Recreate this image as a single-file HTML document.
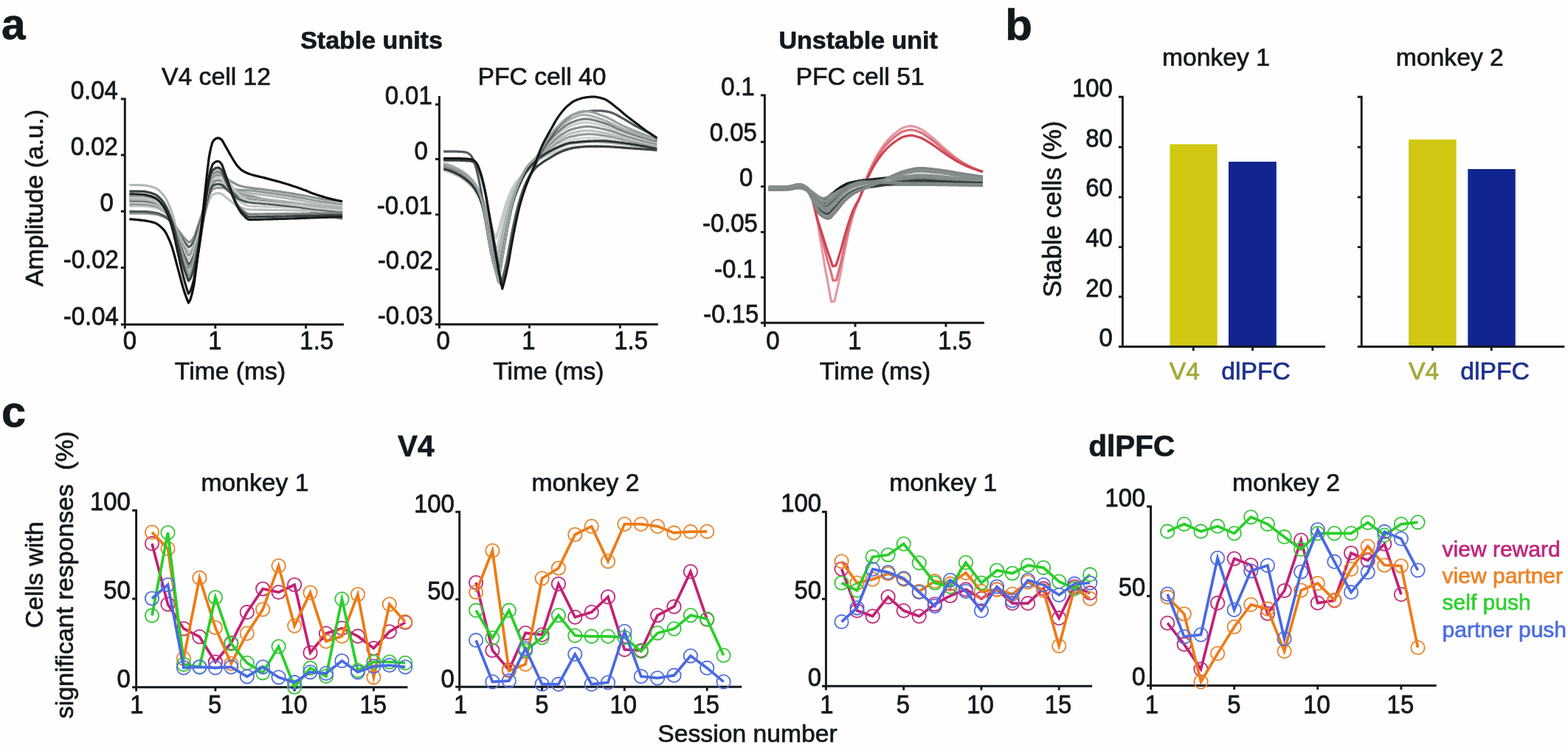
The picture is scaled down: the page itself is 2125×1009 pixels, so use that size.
<!DOCTYPE html>
<html lang="en">
<head>
<meta charset="utf-8">
<title>Figure: unit stability and session responses</title>
<style>
html,body{margin:0;padding:0;background:#fefefe;}
body{width:2125px;height:1009px;overflow:hidden;}
svg{display:block;font-family:"Liberation Sans",sans-serif;font-size:33.7px;fill:#12181c;}
text{stroke:#12181c;stroke-width:0.7px;stroke-linejoin:round;paint-order:stroke fill;}
</style>
</head>
<body>
<svg width="2125" height="1009" viewBox="0 0 2125 1009" role="img" aria-label="Figure with panels a, b and c">
<defs><filter id="soft" x="0" y="0" width="100%" height="100%" filterUnits="userSpaceOnUse" color-interpolation-filters="sRGB"><feGaussianBlur stdDeviation="0.6"/></filter></defs>
<g filter="url(#soft)">
<rect width="2125" height="1009" fill="#fefefe"/>
<text x="1.9" y="52.9" font-size="58.5" font-weight="bold">a</text>
<text x="1362.2" y="53.6" font-size="60" font-weight="bold">b</text>
<text x="2" y="577.5" font-size="59.5" font-weight="bold">c</text>
<text x="503.5" y="66.3" font-size="34" text-anchor="middle" font-weight="bold">Stable units</text>
<text x="1163.2" y="66.3" font-size="34" text-anchor="middle" font-weight="bold">Unstable unit</text>
<text x="293" y="115" text-anchor="middle">V4 cell 12</text>
<text x="734.5" y="115" text-anchor="middle">PFC cell 40</text>
<text x="1165.6" y="115" text-anchor="middle">PFC cell 51</text>
<text transform="translate(57.6 268.1) rotate(-90)" font-size="34" text-anchor="middle">Amplitude (a.u.)</text>
<text x="312" y="514" text-anchor="middle">Time (ms)</text>
<text x="743.4" y="514" text-anchor="middle">Time (ms)</text>
<text x="1186" y="514" text-anchor="middle">Time (ms)</text>
<g id="wave1">
<path d="M175.4 250.5L177.9 250.5L180.4 250.5L182.9 250.6L185.5 250.6L188 250.7L190.5 250.8L193 250.8L195.5 251L198 251.3L200.6 251.8L203.1 252.4L205.6 253L208.1 253.8L210.6 254.7L213.1 256.1L215.7 258.1L218.2 260.5L220.7 263.3L223.2 266.5L225.7 270.6L228.2 275.8L230.7 281.8L233.3 288.5L235.8 297L238.3 306.8L240.8 316.9L243.3 326.5L245.8 336.4L248.4 345.9L250.9 354.2L253.4 361.6L255.9 368.1L258.4 365.7L260.9 361L263.4 354.3L265.9 343.9L268.4 333.3L271 322.3L273.5 310.7L276 298L278.5 284.9L281 271.9L283.5 259.7L286 252.3L288.5 247.4L291 245.6L293.5 244.6L296 244.3L298.5 244.6L301.1 245.3L303.6 246.7L306.1 248.4L308.6 249.9L311.1 251.5L313.6 253.1L316.1 254.6L318.6 256.1L321.1 257.4L323.6 258.4L326.1 259.3L328.6 260L331.2 260.5L333.7 260.9L336.2 261.3L338.7 261.7L341.2 262.1L343.7 262.4L346.2 262.7L348.7 263L351.2 263.4L353.7 263.7L356.2 264L358.7 264.3L361.3 264.7L363.8 265L366.3 265.3L368.8 265.6L371.3 266L373.8 266.3L376.3 266.7L378.8 267L381.3 267.4L383.8 267.7L386.3 268.1L388.8 268.5L391.4 268.9L393.9 269.3L396.4 269.7L398.9 270.1L401.4 270.5L403.9 270.9L406.4 271.4L408.9 271.8L411.4 272.3L413.9 272.8L416.4 273.3L418.9 273.8L421.5 274.3L424 274.8L426.5 275.3L429 275.7L431.5 276.1L434 276.5L436.5 276.9L439 277.2L441.5 277.6L444 277.9L446.5 278.3L449 278.6L451.6 278.9L454.1 279.2L456.6 279.5L459.1 279.7L461.6 280L464.1 280.2" fill="none" stroke="#b3b9b9" stroke-width="3.2" stroke-linejoin="round"/>
<path d="M175.4 288.9L177.9 288.9L180.5 288.9L183 288.9L185.5 288.9L188 288.9L190.6 288.9L193.1 288.9L195.6 288.9L198.1 289L200.7 289.2L203.2 289.4L205.7 289.6L208.2 289.9L210.8 290.2L213.3 290.7L215.8 291.3L218.3 292.2L220.8 293.1L223.4 294.2L225.9 295.6L228.4 297.3L230.9 299.3L233.5 301.6L236 304.5L238.5 307.8L241.1 311.2L243.6 314.4L246.1 317.8L248.6 321L251.1 323.8L253.7 326.3L256.2 328.5L258.7 326.9L261.2 323.7L263.7 319.2L266.2 312L268.7 304.8L271.2 297.4L273.7 289.5L276.2 280.9L278.7 272L281.2 263.2L283.8 254.9L286.3 249.8L288.8 246.5L291.3 245.2L293.8 244.5L296.3 244.3L298.8 244.6L301.3 245.4L303.8 247.2L306.3 249.3L308.8 251.1L311.3 253.1L313.8 255L316.3 256.9L318.8 258.7L321.3 260.3L323.8 261.5L326.3 262.6L328.8 263.4L331.3 264L333.8 264.5L336.4 265L338.9 265.5L341.4 266L343.9 266.6L346.4 267.1L348.9 267.7L351.4 268.2L353.9 268.8L356.4 269.3L358.9 269.9L361.4 270.4L363.9 271L366.4 271.5L368.9 272.1L371.4 272.6L373.9 273.2L376.4 273.7L378.9 274.3L381.4 274.9L383.9 275.5L386.5 276.1L389 276.8L391.5 277.4L394 278.1L396.5 278.8L399 279.5L401.5 280.2L404 280.9L406.5 281.6L409 282.3L411.5 283.1L414 283.9L416.5 284.8L419 285.6L421.5 286.4L424 287.3L426.5 288.1L429 288.8L431.5 289.5L434 290.1L436.5 290.8L439.1 291.4L441.6 291.9L444.1 292.5L446.6 293.1L449.1 293.6L451.6 294.1L454.1 294.6L456.6 295.1L459.1 295.5L461.6 295.9L464.1 296.3" fill="none" stroke="#8a9090" stroke-width="3.2" stroke-linejoin="round"/>
<path d="M175.4 286.4L177.9 286.4L180.4 286.4L182.9 286.4L185.5 286.5L188 286.5L190.5 286.5L193 286.5L195.5 286.6L198 286.7L200.6 286.9L203.1 287.2L205.6 287.4L208.1 287.8L210.6 288.1L213.1 288.7L215.7 289.5L218.2 290.5L220.7 291.7L223.2 293L225.7 294.7L228.2 296.8L230.7 299.3L233.3 302L235.8 305.5L238.3 309.5L240.8 313.7L243.3 317.6L245.8 321.7L248.4 325.6L250.9 329L253.4 332L255.9 334.7L258.4 333L260.9 329.8L263.4 325.2L265.9 317.9L268.4 310.6L271 303.1L273.5 295.1L276 286.3L278.5 277.2L281 268.3L283.5 259.9L286 254.8L288.5 251.4L291 250.2L293.5 249.5L296 249.3L298.5 249.6L301.1 250.3L303.6 252L306.1 253.9L308.6 255.7L311.1 257.5L313.6 259.3L316.1 261.1L318.6 262.8L321.1 264.2L323.6 265.4L326.1 266.4L328.6 267.2L331.2 267.8L333.7 268.3L336.2 268.7L338.7 269.1L341.2 269.5L343.7 269.9L346.2 270.2L348.7 270.6L351.2 270.9L353.7 271.2L356.2 271.6L358.7 271.9L361.3 272.3L363.8 272.6L366.3 273L368.8 273.3L371.3 273.7L373.8 274.1L376.3 274.4L378.8 274.8L381.3 275.2L383.8 275.6L386.3 276L388.8 276.4L391.4 276.8L393.9 277.2L396.4 277.6L398.9 278.1L401.4 278.5L403.9 279L406.4 279.5L408.9 279.9L411.4 280.4L413.9 280.9L416.4 281.5L418.9 282L421.5 282.6L424 283.1L426.5 283.6L429 284.1L431.5 284.5L434 284.9L436.5 285.3L439 285.7L441.5 286.1L444 286.5L446.5 286.8L449 287.1L451.6 287.5L454.1 287.8L456.6 288.1L459.1 288.4L461.6 288.6L464.1 288.9" fill="none" stroke="#53595a" stroke-width="3.2" stroke-linejoin="round"/>
<path d="M175.4 279L177.9 279L180.4 279L182.9 279L185.4 279L187.9 279L190.5 279L193 279L195.5 279.1L198 279.2L200.5 279.5L203 279.8L205.5 280.2L208 280.6L210.5 281.1L213 281.8L215.6 282.9L218.1 284.2L220.6 285.8L223.1 287.5L225.6 289.7L228.1 292.4L230.6 295.5L233.1 299.1L235.6 303.6L238.1 308.7L240.6 314L243.2 319.1L245.7 324.2L248.2 329.2L250.7 333.6L253.2 337.5L255.7 340.9L258.2 339.4L260.7 336.3L263.2 332L265.7 325.3L268.3 318.5L270.8 311.5L273.3 304.1L275.8 295.9L278.3 287.5L280.8 279.2L283.3 271.4L285.8 266.7L288.3 263.6L290.9 262.5L293.4 261.8L295.9 261.7L298.4 262L300.9 262.9L303.4 264.8L305.9 266.9L308.4 268.9L310.9 270.9L313.4 272.9L316 274.9L318.5 276.8L321 278.5L323.5 279.8L326 280.9L328.5 281.8L331 282.5L333.5 283.2L336 283.7L338.6 283.9L341.1 284L343.6 284.1L346.1 284.1L348.6 284.2L351.1 284.2L353.6 284.2L356.1 284.2L358.6 284.3L361.2 284.3L363.7 284.4L366.2 284.4L368.7 284.5L371.2 284.5L373.7 284.6L376.2 284.6L378.7 284.6L381.2 284.7L383.8 284.7L386.3 284.8L388.8 284.8L391.3 284.9L393.8 284.9L396.3 285L398.8 285.1L401.3 285.1L403.8 285.2L406.4 285.2L408.9 285.3L411.4 285.3L413.9 285.4L416.4 285.5L418.9 285.5L421.4 285.6L423.9 285.7L426.4 285.7L428.9 285.8L431.5 285.9L434 285.9L436.5 286L439 286L441.5 286.1L444 286.1L446.5 286.1L449 286.2L451.5 286.2L454.1 286.3L456.6 286.3L459.1 286.3L461.6 286.4L464.1 286.4" fill="none" stroke="#bcc1c1" stroke-width="3.2" stroke-linejoin="round"/>
<path d="M175.4 276.5L177.9 276.5L180.4 276.5L182.9 276.5L185.4 276.5L187.9 276.6L190.4 276.6L192.9 276.6L195.4 276.7L197.9 276.9L200.4 277.2L202.9 277.5L205.4 278L207.9 278.4L210.4 279L212.9 279.8L215.4 281L217.9 282.5L220.4 284.2L222.9 286.1L225.4 288.6L227.9 291.7L230.4 295.2L232.9 299.2L235.4 304.2L237.9 310L240.4 315.9L242.9 321.5L245.4 327.3L247.9 332.8L250.4 337.7L252.9 342L255.4 345.9L257.9 344.1L260.4 340.6L262.9 335.6L265.5 327.8L268 319.9L270.5 311.8L273 303.2L275.5 293.7L278 284L280.5 274.4L283.1 265.4L285.6 260L288.1 256.4L290.6 255.2L293.1 254.4L295.6 254.2L298.1 254.3L300.7 254.4L303.2 254.7L305.7 255.1L308.2 255.4L310.7 255.8L313.2 256.1L315.7 256.4L318.3 256.7L320.8 257L323.3 257.2L325.8 257.4L328.3 257.6L330.8 257.7L333.3 257.7L335.9 257.8L338.4 257.9L340.9 258.1L343.4 258.4L345.9 258.7L348.4 259.1L350.9 259.5L353.5 259.8L356 260.2L358.5 260.6L361 260.9L363.5 261.2L366 261.6L368.6 261.9L371.1 262.2L373.6 262.6L376.1 262.9L378.6 263.3L381.1 263.6L383.6 264L386.2 264.4L388.7 264.7L391.2 265.1L393.7 265.5L396.2 265.9L398.7 266.4L401.2 266.8L403.8 267.2L406.3 267.6L408.8 268.1L411.3 268.5L413.8 269L416.3 269.5L418.8 270L421.4 270.5L423.9 271L426.4 271.5L428.9 272L431.4 272.4L433.9 272.8L436.4 273.1L439 273.5L441.5 273.9L444 274.2L446.5 274.5L449 274.9L451.5 275.2L454 275.5L456.6 275.8L459.1 276L461.6 276.3L464.1 276.5" fill="none" stroke="#929898" stroke-width="3.2" stroke-linejoin="round"/>
<path d="M175.4 274L177.9 274L180.4 274L182.9 274.1L185.4 274.1L187.9 274.1L190.4 274.2L192.9 274.3L195.4 274.4L197.9 274.6L200.4 274.9L202.9 275.3L205.4 275.8L207.9 276.3L210.4 276.9L212.9 277.9L215.4 279.2L217.9 280.8L220.4 282.7L222.9 284.8L225.4 287.6L227.9 291.1L230.4 295L232.9 299.5L235.4 305.2L237.9 311.7L240.4 318.3L242.9 324.6L245.4 331.2L247.9 337.4L250.4 342.9L252.9 347.7L255.4 352L257.9 349.9L260.4 345.6L262.9 339.6L265.5 330.1L268 320.5L270.5 310.6L273 300.1L275.5 288.6L278 276.8L280.5 265.1L283.1 254.2L285.6 247.6L288.1 243.3L290.6 241.7L293.1 240.8L295.6 240.6L298.1 241.2L300.7 242.7L303.2 246L305.7 249.6L308.2 253L310.7 256.5L313.2 260L315.7 263.3L318.3 266.6L320.8 269.5L323.3 271.7L325.8 273.7L328.3 275.3L330.8 276.5L333.3 277.7L335.9 278.6L338.4 279L340.9 279.1L343.4 279.3L345.9 279.3L348.4 279.4L350.9 279.5L353.5 279.5L356 279.6L358.5 279.7L361 279.8L363.5 279.9L366 279.9L368.6 280L371.1 280.1L373.6 280.2L376.1 280.3L378.6 280.4L381.1 280.5L383.6 280.6L386.2 280.7L388.7 280.8L391.2 280.9L393.7 281L396.2 281.1L398.7 281.2L401.2 281.3L403.8 281.5L406.3 281.6L408.8 281.7L411.3 281.8L413.8 281.9L416.3 282.1L418.8 282.2L421.4 282.3L423.9 282.5L426.4 282.6L428.9 282.7L431.4 282.8L433.9 282.9L436.4 283L439 283.1L441.5 283.2L444 283.3L446.5 283.4L449 283.5L451.5 283.6L454 283.7L456.6 283.7L459.1 283.8L461.6 283.9L464.1 283.9" fill="none" stroke="#c6caca" stroke-width="3.2" stroke-linejoin="round"/>
<path d="M175.4 271.5L177.9 271.6L180.4 271.6L182.9 271.6L185.4 271.7L187.9 271.7L190.4 271.8L192.9 271.9L195.4 272.1L197.9 272.3L200.4 272.7L202.9 273.1L205.4 273.6L207.9 274.2L210.4 274.8L212.9 275.9L215.4 277.3L217.9 279.1L220.4 281.2L222.9 283.6L225.4 286.6L227.9 290.5L230.4 294.9L232.9 299.9L235.4 306.2L237.9 313.4L240.4 320.8L242.9 327.8L245.4 335L247.9 342L250.4 348L252.9 353.4L255.4 358.2L257.9 356.1L260.4 351.9L262.9 346L265.5 336.8L268 327.4L270.5 317.8L273 307.5L275.5 296.2L278 284.7L280.5 273.3L283.1 262.6L285.6 256.1L288.1 251.9L290.6 250.4L293.1 249.5L295.6 249.3L298.1 249.6L300.7 250.7L303.2 252.8L305.7 255.1L308.2 257.3L310.7 259.5L313.2 261.7L315.7 263.9L318.3 266.1L320.8 267.9L323.3 269.4L325.8 270.6L328.3 271.6L330.8 272.4L333.3 273.1L335.9 273.6L338.4 274L340.9 274.3L343.4 274.6L345.9 274.8L348.4 275L350.9 275.2L353.5 275.4L356 275.6L358.5 275.8L361 276L363.5 276.2L366 276.5L368.6 276.7L371.1 276.9L373.6 277.1L376.1 277.3L378.6 277.6L381.1 277.8L383.6 278.1L386.2 278.3L388.7 278.6L391.2 278.8L393.7 279.1L396.2 279.4L398.7 279.6L401.2 279.9L403.8 280.2L406.3 280.5L408.8 280.8L411.3 281.1L413.8 281.4L416.3 281.8L418.8 282.1L421.4 282.4L423.9 282.8L426.4 283.1L428.9 283.4L431.4 283.7L433.9 283.9L436.4 284.2L439 284.4L441.5 284.7L444 284.9L446.5 285.1L449 285.3L451.5 285.5L454 285.7L456.6 285.9L459.1 286.1L461.6 286.3L464.1 286.4" fill="none" stroke="#4a5051" stroke-width="3.2" stroke-linejoin="round"/>
<path d="M175.4 269.1L177.9 269.1L180.4 269.1L182.9 269.1L185.4 269.2L187.9 269.2L190.4 269.3L192.9 269.3L195.4 269.5L197.9 269.7L200.4 270.1L202.9 270.6L205.4 271.1L207.9 271.8L210.4 272.5L212.9 273.7L215.4 275.3L217.9 277.3L220.4 279.5L222.9 282.1L225.4 285.5L227.9 289.6L230.4 294.4L232.9 299.8L235.4 306.7L237.9 314.5L240.4 322.5L242.9 330.1L245.4 338L247.9 345.5L250.4 352.1L252.9 358L255.4 363.2L257.9 360.7L260.4 355.9L262.9 349L265.5 338.3L268 327.5L270.5 316.3L273 304.4L275.5 291.3L278 278L280.5 264.7L283.1 252.3L285.6 244.8L288.1 239.9L290.6 238.2L293.1 237.1L295.6 236.9L298.1 237.1L300.7 237.8L303.2 239.3L305.7 241L308.2 242.5L310.7 244.1L313.2 245.6L315.7 247.1L318.3 248.6L320.8 249.9L323.3 250.9L325.8 251.8L328.3 252.5L330.8 253L333.3 253.5L335.9 253.9L338.4 254.2L340.9 254.6L343.4 254.9L345.9 255.3L348.4 255.6L350.9 255.9L353.5 256.2L356 256.5L358.5 256.9L361 257.2L363.5 257.5L366 257.9L368.6 258.2L371.1 258.5L373.6 258.8L376.1 259.2L378.6 259.5L381.1 259.9L383.6 260.3L386.2 260.6L388.7 261L391.2 261.4L393.7 261.8L396.2 262.2L398.7 262.6L401.2 263.1L403.8 263.5L406.3 263.9L408.8 264.4L411.3 264.8L413.8 265.3L416.3 265.8L418.8 266.3L421.4 266.8L423.9 267.3L426.4 267.8L428.9 268.3L431.4 268.7L433.9 269.1L436.4 269.4L439 269.8L441.5 270.2L444 270.5L446.5 270.8L449 271.2L451.5 271.5L454 271.8L456.6 272L459.1 272.3L461.6 272.6L464.1 272.8" fill="none" stroke="#8a9090" stroke-width="3.2" stroke-linejoin="round"/>
<path d="M175.4 270.3L177.9 270.3L180.4 270.3L182.9 270.4L185.4 270.4L187.9 270.5L190.4 270.6L192.9 270.6L195.4 270.8L197.9 271.1L200.4 271.5L202.9 272L205.4 272.6L207.9 273.3L210.4 274L212.9 275.3L215.4 277L217.9 279.1L220.4 281.5L222.9 284.2L225.4 287.8L227.9 292.2L230.4 297.3L232.9 303.1L235.4 310.4L237.9 318.7L240.4 327.2L242.9 335.4L245.4 343.8L247.9 351.8L250.4 358.8L252.9 365.1L255.4 370.6L257.9 368L260.4 362.8L262.9 355.4L265.5 343.9L268 332.3L270.5 320.2L273 307.4L275.5 293.4L278 279L280.5 264.8L283.1 251.5L285.6 243.5L288.1 238.2L290.6 236.3L293.1 235.2L295.6 234.9L298.1 235.4L300.7 236.7L303.2 239.5L305.7 242.7L308.2 245.5L310.7 248.5L313.2 251.5L315.7 254.4L318.3 257.2L320.8 259.7L323.3 261.6L325.8 263.3L328.3 264.6L330.8 265.7L333.3 266.6L335.9 267.3L338.4 267.8L340.9 268.2L343.4 268.5L345.9 268.8L348.4 269L350.9 269.3L353.5 269.5L356 269.7L358.5 270L361 270.2L363.5 270.5L366 270.7L368.6 271L371.1 271.3L373.6 271.5L376.1 271.8L378.6 272.1L381.1 272.4L383.6 272.7L386.2 273L388.7 273.3L391.2 273.6L393.7 273.9L396.2 274.2L398.7 274.6L401.2 274.9L403.8 275.3L406.3 275.6L408.8 276L411.3 276.3L413.8 276.7L416.3 277.1L418.8 277.5L421.4 277.9L423.9 278.3L426.4 278.7L428.9 279.1L431.4 279.4L433.9 279.7L436.4 280L439 280.3L441.5 280.6L444 280.9L446.5 281.1L449 281.4L451.5 281.6L454 281.9L456.6 282.1L459.1 282.3L461.6 282.5L464.1 282.7" fill="none" stroke="#a9afaf" stroke-width="3.2" stroke-linejoin="round"/>
<path d="M175.4 266.6L177.9 266.6L180.4 266.6L182.9 266.7L185.4 266.8L187.9 266.8L190.4 266.9L192.9 267L195.4 267.3L197.9 267.6L200.4 268L202.9 268.5L205.4 269.2L207.9 269.9L210.4 270.7L212.9 272L215.4 273.9L217.9 276.1L220.4 278.7L222.9 281.7L225.4 285.6L227.9 290.4L230.4 295.9L232.9 302.2L235.4 310.1L237.9 319.2L240.4 328.5L242.9 337.3L245.4 346.4L247.9 355.1L250.4 362.7L252.9 369.5L255.4 375.6L257.9 372.8L260.4 367.3L262.9 359.5L265.5 347.3L268 335L270.5 322.2L273 308.7L275.5 293.9L278 278.6L280.5 263.6L283.1 249.5L285.6 241L288.1 235.4L290.6 233.4L293.1 232.2L295.6 232L298.1 232.8L300.7 235.2L303.2 240.1L305.7 245.7L308.2 250.7L310.7 256L313.2 261.3L315.7 266.4L318.3 271.4L320.8 275.7L323.3 279.2L325.8 282.1L328.3 284.5L330.8 286.4L333.3 288.3L335.9 289.6L338.4 290.1L340.9 290.1L343.4 290.1L345.9 290.1L348.4 290.1L350.9 290L353.5 290L356 290L358.5 289.9L361 289.9L363.5 289.9L366 289.9L368.6 289.9L371.1 289.8L373.6 289.8L376.1 289.8L378.6 289.8L381.1 289.7L383.6 289.7L386.2 289.7L388.7 289.7L391.2 289.6L393.7 289.6L396.2 289.6L398.7 289.6L401.2 289.5L403.8 289.5L406.3 289.5L408.8 289.4L411.3 289.4L413.8 289.4L416.3 289.4L418.8 289.3L421.4 289.3L423.9 289.2L426.4 289.2L428.9 289.2L431.4 289.2L433.9 289.1L436.4 289.1L439 289.1L441.5 289.1L444 289L446.5 289L449 289L451.5 289L454 289L456.6 288.9L459.1 288.9L461.6 288.9L464.1 288.9" fill="none" stroke="#7a8080" stroke-width="3.2" stroke-linejoin="round"/>
<path d="M175.4 267.8L177.9 267.8L180.4 267.9L182.9 267.9L185.4 268L187.9 268.1L190.4 268.2L192.9 268.3L195.4 268.5L197.9 268.9L200.4 269.3L202.9 269.8L205.4 270.5L207.9 271.2L210.4 272.1L212.9 273.4L215.4 275.3L217.9 277.6L220.4 280.3L222.9 283.3L225.4 287.2L227.9 292.2L230.4 297.8L232.9 304.2L235.4 312.4L237.9 321.6L240.4 331.1L242.9 340.2L245.4 349.5L247.9 358.4L250.4 366.2L252.9 373.1L255.4 379.3L257.9 376.4L260.4 370.6L262.9 362.5L265.5 349.8L268 336.9L270.5 323.6L273 309.5L275.5 294.1L278 278.2L280.5 262.5L283.1 247.8L285.6 238.9L288.1 233.1L290.6 231L293.1 229.8L295.6 229.5L298.1 230.1L300.7 231.8L303.2 235.4L305.7 239.4L308.2 243L310.7 246.9L313.2 250.7L315.7 254.4L318.3 258L320.8 261.1L323.3 263.6L325.8 265.8L328.3 267.5L330.8 268.8L333.3 270L335.9 271L338.4 271.6L340.9 271.9L343.4 272.2L345.9 272.5L348.4 272.7L350.9 272.9L353.5 273.1L356 273.3L358.5 273.5L361 273.7L363.5 274L366 274.2L368.6 274.5L371.1 274.7L373.6 275L376.1 275.2L378.6 275.5L381.1 275.7L383.6 276L386.2 276.3L388.7 276.5L391.2 276.8L393.7 277.1L396.2 277.4L398.7 277.7L401.2 278L403.8 278.4L406.3 278.7L408.8 279L411.3 279.3L413.8 279.7L416.3 280.1L418.8 280.4L421.4 280.8L423.9 281.2L426.4 281.5L428.9 281.8L431.4 282.2L433.9 282.4L436.4 282.7L439 283L441.5 283.2L444 283.5L446.5 283.7L449 284L451.5 284.2L454 284.4L456.6 284.6L459.1 284.8L461.6 285L464.1 285.2" fill="none" stroke="#c0c5c5" stroke-width="3.2" stroke-linejoin="round"/>
<path d="M175.4 259.2L177.9 259.2L180.4 259.2L182.9 259.2L185.4 259.2L187.9 259.2L190.4 259.2L192.9 259.3L195.4 259.4L197.9 259.8L200.4 260.2L202.9 260.9L205.4 261.6L207.9 262.4L210.4 263.4L212.9 264.9L215.4 267L217.9 269.6L220.4 272.6L222.9 276L225.4 280.3L227.9 285.7L230.4 291.8L232.9 298.8L235.4 307.6L237.9 317.7L240.4 328.1L242.9 337.9L245.4 348L247.9 357.8L250.4 366.2L252.9 373.8L255.4 380.5L257.9 377.5L260.4 371.6L262.9 363.3L265.5 350.3L268 337.1L270.5 323.5L273 309L275.5 293.2L278 276.9L280.5 260.8L283.1 245.7L285.6 236.7L288.1 230.7L290.6 228.5L293.1 227.3L295.6 227L298.1 228L300.7 230.7L303.2 236.4L305.7 242.7L308.2 248.6L310.7 254.7L313.2 260.7L315.7 266.6L318.3 272.3L320.8 277.3L323.3 281.2L325.8 284.7L328.3 287.3L330.8 289.6L333.3 291.7L335.9 293.3L338.4 293.8L340.9 293.8L343.4 293.8L345.9 293.8L348.4 293.7L350.9 293.6L353.5 293.6L356 293.5L358.5 293.5L361 293.4L363.5 293.4L366 293.4L368.6 293.3L371.1 293.3L373.6 293.2L376.1 293.2L378.6 293.1L381.1 293.1L383.6 293L386.2 293L388.7 292.9L391.2 292.9L393.7 292.8L396.2 292.8L398.7 292.7L401.2 292.7L403.8 292.6L406.3 292.5L408.8 292.5L411.3 292.4L413.8 292.4L416.3 292.3L418.8 292.2L421.4 292.2L423.9 292.1L426.4 292L428.9 292L431.4 291.9L433.9 291.9L436.4 291.8L439 291.8L441.5 291.7L444 291.7L446.5 291.6L449 291.6L451.5 291.5L454 291.5L456.6 291.5L459.1 291.4L461.6 291.4L464.1 291.4" fill="none" stroke="#3a4041" stroke-width="3.2" stroke-linejoin="round"/>
<path d="M175.4 262.9L177.9 262.9L180.4 262.9L182.9 263L185.4 263.1L187.9 263.2L190.4 263.3L192.9 263.5L195.4 263.7L197.9 264.1L200.4 264.7L202.9 265.3L205.4 266.1L207.9 267L210.4 268L212.9 269.7L215.4 271.9L217.9 274.7L220.4 277.9L222.9 281.6L225.4 286.4L227.9 292.3L230.4 299.2L232.9 307L235.4 316.8L237.9 328L240.4 339.5L242.9 350.5L245.4 361.7L247.9 372.5L250.4 382L252.9 390.4L255.4 397.9L257.9 394.4L260.4 387.5L262.9 377.8L265.5 362.5L268 347.1L270.5 331.2L273 314.3L275.5 295.7L278 276.7L280.5 257.9L283.1 240.2L285.6 229.6L288.1 222.7L290.6 220.1L293.1 218.7L295.6 218.4L298.1 219.5L300.7 222.8L303.2 229.5L305.7 237L308.2 243.9L310.7 251.1L313.2 258.3L315.7 265.2L318.3 272.1L320.8 277.9L323.3 282.6L325.8 286.7L328.3 289.9L330.8 292.5L333.3 295L335.9 296.9L338.4 297.6L340.9 297.5L343.4 297.5L345.9 297.4L348.4 297.4L350.9 297.3L353.5 297.2L356 297.1L358.5 297L361 297L363.5 296.9L366 296.8L368.6 296.8L371.1 296.7L373.6 296.6L376.1 296.6L378.6 296.5L381.1 296.4L383.6 296.3L386.2 296.3L388.7 296.2L391.2 296.1L393.7 296L396.2 296L398.7 295.9L401.2 295.8L403.8 295.7L406.3 295.6L408.8 295.5L411.3 295.4L413.8 295.3L416.3 295.2L418.8 295.1L421.4 295L423.9 294.9L426.4 294.8L428.9 294.7L431.4 294.7L433.9 294.6L436.4 294.5L439 294.4L441.5 294.4L444 294.3L446.5 294.2L449 294.2L451.5 294.1L454 294L456.6 294L459.1 293.9L461.6 293.9L464.1 293.8" fill="none" stroke="#1a1e1f" stroke-width="3.2" stroke-linejoin="round"/>
<path d="M175.4 296.8L177.9 296.9L180.4 297.1L182.9 297.3L185.4 297.5L187.9 297.8L190.4 298.1L192.9 298.4L195.4 298.7L197.9 299.1L200.4 299.5L202.9 300L205.4 300.6L207.9 301.3L210.4 302.1L212.9 303.4L215.4 305.1L217.9 307.2L220.4 309.6L222.9 312.4L225.4 316.4L227.9 321.5L230.4 327.3L232.9 333.9L235.4 342.1L237.9 351.5L240.4 361.2L242.9 370.4L245.4 379.9L247.9 389L250.4 396.9L252.9 404L255.4 410.2L257.9 405.9L260.4 397.3L262.9 385.2L265.5 366.2L268 347.1L270.5 327.3L273 306.2L275.5 283.2L278 259.5L280.5 236.1L283.1 214.1L285.6 200.9L288.1 192.3L290.6 189.1L293.1 187.3L295.6 186.9L298.1 187.6L300.7 189.6L303.2 193.7L305.7 198.4L308.2 202.6L310.7 207.1L313.2 211.5L315.7 215.7L318.3 219.9L320.8 223.6L323.3 226.4L325.8 228.9L328.3 230.9L330.8 232.4L333.3 233.7L335.9 234.7L338.4 235.7L340.9 236.5L343.4 237.2L345.9 237.9L348.4 238.5L350.9 239.1L353.5 239.7L356 240.3L358.5 240.9L361 241.6L363.5 242.3L366 242.9L368.6 243.6L371.1 244.2L373.6 244.9L376.1 245.6L378.6 246.3L381.1 247L383.6 247.7L386.2 248.5L388.7 249.3L391.2 250L393.7 250.8L396.2 251.7L398.7 252.5L401.2 253.3L403.8 254.2L406.3 255.1L408.8 255.9L411.3 256.9L413.8 257.8L416.3 258.8L418.8 259.9L421.4 260.9L423.9 261.9L426.4 262.8L428.9 263.7L431.4 264.6L433.9 265.3L436.4 266.1L439 266.8L441.5 267.5L444 268.2L446.5 268.9L449 269.5L451.5 270.1L454 270.7L456.6 271.3L459.1 271.8L461.6 272.3L464.1 272.8" fill="none" stroke="#0c0f10" stroke-width="3.2" stroke-linejoin="round"/>
</g>
<path d="M169.3 134V439.5H464.5M165.3 134H169.3M165.3 210H169.3M165.3 286.3H169.3M165.3 362.5H169.3M165.3 439.5H169.3M169.3 439.5V443.5M291.8 439.5V443.5M414.5 439.5V443.5" fill="none" stroke="#12181c" stroke-width="2.9" stroke-linecap="square"/>
<text transform="translate(159.8 134.3) scale(1 1.075)" font-size="32.9" text-anchor="end">0.04</text>
<text transform="translate(159.8 210.3) scale(1 1.075)" font-size="32.9" text-anchor="end">0.02</text>
<text transform="translate(153.8 286.3) scale(1 1.075)" font-size="32.9" text-anchor="end">0</text>
<text transform="translate(160.8 362.6) scale(1 1.075)" font-size="32.9" text-anchor="end">-0.02</text>
<text transform="translate(160.8 439.6) scale(1 1.075)" font-size="32.9" text-anchor="end">-0.04</text>
<text transform="translate(176 472.5) scale(1 1.075)" font-size="32.9" text-anchor="middle">0</text>
<text transform="translate(291.5 472.5) scale(1 1.075)" font-size="32.9" text-anchor="middle">1</text>
<text transform="translate(429.2 472.5) scale(1 1.075)" font-size="32.9" text-anchor="middle">1.5</text>
<g id="wave2">
<path d="M601.1 226.9L603.6 227.4L606 228.1L608.5 228.9L610.9 229.8L613.4 230.8L615.9 231.9L618.3 233.1L620.8 234.3L623.2 235.7L625.7 237.1L628.2 238.8L630.6 240.6L633.1 242.6L635.5 244.7L638 247.1L640.5 249.9L642.9 253.3L645.4 257.1L647.8 260.7L650.3 264L652.8 267.4L655.2 271.9L657.7 278.6L660.1 286.1L662.6 293.5L665 301.2L667.5 309.7L670 317.6L672.4 322.6L674.9 313.7L677.4 304.8L679.9 296.1L682.4 287.3L684.9 278.9L687.5 271.3L690 264.3L692.5 258.5L695 253.8L697.5 249.6L700 245.9L702.5 242.9L705 240.5L707.5 238.6L710 236.8L712.5 234.9L715 232.6L717.5 229.9L720 226.9L722.5 223.9L725 221.1L727.5 218.8L730 217.1L732.5 215.5L735 214.1L737.5 212.9L740 211.6L742.5 210.4L745.1 209.2L747.6 208.1L750.1 207L752.6 206L755.1 205.1L757.6 204.2L760.1 203.4L762.6 202.5L765.1 201.7L767.6 201L770.1 200.4L772.6 199.9L775.1 199.6L777.6 199.4L780.1 199.1L782.6 198.9L785.1 198.7L787.6 198.5L790.1 198.3L792.6 198.2L795.1 198L797.6 197.9L800.1 197.8L802.7 197.8L805.2 197.7L807.7 197.7L810.2 197.7L812.7 197.8L815.2 197.9L817.7 198L820.2 198.1L822.7 198.2L825.2 198.3L827.7 198.5L830.2 198.6L832.7 198.7L835.2 198.9L837.7 199L840.2 199.2L842.7 199.4L845.2 199.6L847.7 199.8L850.2 200L852.7 200.2L855.2 200.4L857.7 200.6L860.2 200.8L862.8 201L865.3 201.2L867.8 201.4L870.3 201.6L872.8 201.8L875.3 202L877.8 202.2L880.3 202.4L882.8 202.6L885.3 202.8L887.8 203L890.3 203.3" fill="none" stroke="#c6caca" stroke-width="3.2" stroke-linejoin="round"/>
<path d="M601.1 224.1L603.6 224.6L606.1 225.3L608.6 226.1L611.1 227.1L613.5 228.1L616 229.2L618.5 230.4L621 231.7L623.5 233L626 234.5L628.5 236.2L631 238.1L633.4 240.1L635.9 242.3L638.4 244.8L640.9 247.6L643.4 251L645.9 254.9L648.4 258.9L650.9 263.2L653.4 268.2L655.8 274.8L658.3 284.2L660.8 294.1L663.3 304.3L665.8 314.2L668.3 324L670.8 332.7L673.3 339.3L675.8 328.5L678.2 317.9L680.7 307.5L683.2 296.9L685.7 286.8L688.2 277.7L690.7 269.3L693.2 262.4L695.7 256.7L698.2 251.6L700.7 247.3L703.2 243.5L705.7 240.4L708.2 237.8L710.7 235.5L713.2 233L715.7 230.3L718.2 227.5L720.7 224.6L723.2 221.8L725.6 219.2L728.1 217L730.6 215L733.1 213.2L735.6 211.6L738.1 210L740.6 208.5L743.1 207.1L745.6 205.7L748.1 204.4L750.6 203.1L753.1 201.9L755.6 200.8L758.1 199.8L760.6 198.7L763.1 197.7L765.6 196.8L768.1 196L770.6 195.3L773 194.8L775.5 194.4L778 194.1L780.5 193.8L783 193.5L785.5 193.2L788 193L790.5 192.8L793 192.6L795.5 192.4L798 192.3L800.5 192.2L803 192.2L805.5 192.2L808 192.2L810.5 192.3L813 192.4L815.5 192.6L818 192.8L820.4 193L822.9 193.2L825.4 193.4L827.9 193.7L830.4 193.9L832.9 194.1L835.4 194.4L837.9 194.6L840.4 194.9L842.9 195.2L845.4 195.6L847.9 195.9L850.4 196.2L852.9 196.5L855.4 196.9L857.9 197.2L860.4 197.4L862.9 197.7L865.4 198L867.8 198.3L870.3 198.6L872.8 198.9L875.3 199.2L877.8 199.5L880.3 199.8L882.8 200.1L885.3 200.4L887.8 200.7L890.3 201" fill="none" stroke="#b0b6b6" stroke-width="3.2" stroke-linejoin="round"/>
<path d="M601.1 229.6L603.6 230.2L606.1 230.9L608.6 231.7L611.1 232.6L613.5 233.7L616 234.8L618.5 236L621 237.2L623.5 238.6L626 240.1L628.5 241.8L631 243.6L633.4 245.7L635.9 247.9L638.4 250.3L640.9 253.1L643.4 256.6L645.9 260.4L648.4 264.5L650.9 268.8L653.4 273.9L655.8 280.6L658.3 290.2L660.8 300.3L663.3 310.6L665.8 320.8L668.3 330.7L670.8 339.5L673.3 346.2L675.8 334.6L678.2 323.2L680.7 312L683.2 300.6L685.7 289.7L688.2 279.9L690.7 270.8L693.2 263.3L695.7 257.2L698.2 251.8L700.7 247L703.2 243L705.7 239.7L708.2 236.8L710.7 234.3L713.2 231.7L715.7 228.9L718.2 226.1L720.7 223.3L723.2 220.5L725.6 217.9L728.1 215.6L730.6 213.4L733.1 211.3L735.6 209.3L738.1 207.5L740.6 205.7L743.1 204L745.6 202.4L748.1 200.8L750.6 199.3L753.1 198L755.6 196.7L758.1 195.5L760.6 194.3L763.1 193.1L765.6 192.1L768.1 191.1L770.6 190.3L773 189.7L775.5 189.2L778 188.8L780.5 188.4L783 188.1L785.5 187.7L788 187.4L790.5 187.2L793 186.9L795.5 186.8L798 186.7L800.5 186.6L803 186.6L805.5 186.7L808 186.8L810.5 187L813 187.3L815.5 187.5L818 187.8L820.4 188.1L822.9 188.4L825.4 188.7L827.9 189L830.4 189.4L832.9 189.7L835.4 190.2L837.9 190.6L840.4 191L842.9 191.5L845.4 191.9L847.9 192.4L850.4 192.8L852.9 193.3L855.4 193.7L857.9 194.1L860.4 194.5L862.9 194.9L865.4 195.3L867.8 195.7L870.3 196L872.8 196.4L875.3 196.8L877.8 197.2L880.3 197.6L882.8 198L885.3 198.3L887.8 198.7L890.3 199.1" fill="none" stroke="#d3d7d7" stroke-width="3.2" stroke-linejoin="round"/>
<path d="M601.1 225.5L603.6 226L606.1 226.7L608.6 227.5L611.1 228.5L613.6 229.5L616.1 230.7L618.7 231.9L621.2 233.1L623.7 234.5L626.2 236.1L628.7 237.8L631.2 239.7L633.7 241.7L636.2 244L638.7 246.4L641.2 249.3L643.7 252.8L646.2 256.7L648.7 261.1L651.2 266.1L653.8 272.2L656.3 280.5L658.8 291.8L661.3 303.3L663.8 315.3L666.3 326.3L668.8 336.5L671.3 345.6L673.8 353.1L676.3 340.9L678.8 328.8L681.3 316.9L683.8 304.9L686.3 293.4L688.7 283L691.2 273.3L693.7 265.4L696.2 258.9L698.7 253.2L701.2 248.2L703.7 243.9L706.2 240.1L708.7 236.9L711.1 234L713.6 231.2L716.1 228.3L718.6 225.5L721.1 222.8L723.6 220.2L726.1 217.6L728.6 215.1L731 212.7L733.5 210.3L736 207.9L738.5 205.7L741 203.7L743.5 201.7L746 199.8L748.5 198L751 196.3L753.4 194.7L755.9 193.2L758.4 191.8L760.9 190.4L763.4 189.1L765.9 187.9L768.4 186.8L770.9 185.8L773.3 185.1L775.8 184.6L778.3 184.1L780.8 183.6L783.3 183.1L785.8 182.7L788.3 182.4L790.8 182.1L793.3 181.8L795.7 181.7L798.2 181.6L800.7 181.6L803.2 181.8L805.7 182L808.2 182.2L810.7 182.5L813.2 182.9L815.7 183.3L818.1 183.6L820.6 184L823.1 184.4L825.6 184.8L828.1 185.3L830.6 185.8L833.1 186.3L835.6 186.8L838 187.4L840.5 188L843 188.6L845.5 189.2L848 189.7L850.5 190.3L853 190.8L855.5 191.3L858 191.8L860.4 192.2L862.9 192.7L865.4 193.2L867.9 193.7L870.4 194.1L872.9 194.6L875.4 195.1L877.9 195.5L880.3 196L882.8 196.4L885.3 196.9L887.8 197.3L890.3 197.7" fill="none" stroke="#979d9d" stroke-width="3.2" stroke-linejoin="round"/>
<path d="M601.1 231L603.6 231.6L606.1 232.3L608.6 233.1L611.1 234L613.6 235.1L616.1 236.2L618.7 237.4L621.2 238.7L623.7 240.1L626.2 241.6L628.7 243.3L631.2 245.2L633.7 247.3L636.2 249.5L638.7 252L641.2 254.9L643.7 258.3L646.2 262.3L648.7 266.6L651.2 271.7L653.8 277.8L656.3 286L658.8 297.3L661.3 308.8L663.8 320.8L666.3 331.9L668.8 342L671.3 351.1L673.8 358.7L676.3 345.8L678.8 333L681.3 320.4L683.8 307.7L686.3 295.5L688.7 284.5L691.2 274.3L693.7 266L696.2 259.1L698.7 253.1L701.2 247.8L703.7 243.2L706.2 239.3L708.7 235.9L711.1 232.8L713.6 229.8L716.1 226.9L718.6 224.1L721.1 221.5L723.6 218.9L726.1 216.3L728.6 213.7L731 211.1L733.5 208.4L736 205.8L738.5 203.4L741 201.1L743.5 199L746 196.9L748.5 194.9L751 193L753.4 191.2L755.9 189.6L758.4 188.1L760.9 186.6L763.4 185.1L765.9 183.8L768.4 182.6L770.9 181.6L773.3 180.7L775.8 180.1L778.3 179.5L780.8 178.9L783.3 178.4L785.8 177.9L788.3 177.5L790.8 177.2L793.3 177L795.7 176.9L798.2 176.9L800.7 177.1L803.2 177.3L805.7 177.7L808.2 178L810.7 178.5L813.2 178.9L815.7 179.4L818.1 179.9L820.6 180.3L823.1 180.8L825.6 181.4L828.1 182L830.6 182.6L833.1 183.3L835.6 184L838 184.7L840.5 185.4L843 186.1L845.5 186.8L848 187.4L850.5 188L853 188.6L855.5 189.1L858 189.7L860.4 190.3L862.9 190.8L865.4 191.4L867.9 191.9L870.4 192.4L872.9 192.9L875.4 193.5L877.9 194L880.3 194.4L882.8 194.9L885.3 195.4L887.8 195.9L890.3 196.3" fill="none" stroke="#bcc1c1" stroke-width="3.2" stroke-linejoin="round"/>
<path d="M601.1 222.7L603.6 223.2L606.2 223.9L608.7 224.8L611.2 225.7L613.7 226.8L616.3 228L618.8 229.2L621.3 230.4L623.8 231.8L626.4 233.4L628.9 235.1L631.4 237.1L633.9 239.2L636.5 241.5L639 244L641.5 246.9L644.1 250.4L646.6 254.4L649.1 259.3L651.6 265.3L654.2 272.7L656.7 282.9L659.2 296.2L661.7 309.6L664.3 323.5L666.8 335.5L669.3 345.9L671.8 355.5L674.4 364.2L676.9 350.6L679.4 337.2L681.9 324L684.4 310.6L686.9 297.8L689.4 286.3L691.9 275.6L694.5 267L697 259.9L699.5 253.6L702 248.2L704.5 243.3L707 239L709.5 235.3L712 231.9L714.5 228.7L717.1 225.8L719.6 223.1L722.1 220.5L724.6 218L727.1 215.3L729.6 212.4L732.1 209.4L734.6 206.3L737.1 203.3L739.7 200.5L742.2 198L744.7 195.5L747.2 193.2L749.7 190.9L752.2 188.8L754.7 186.8L757.2 185L759.7 183.3L762.2 181.6L764.8 180L767.3 178.5L769.8 177.2L772.3 176.1L774.8 175.3L777.3 174.6L779.8 173.9L782.3 173.3L784.8 172.7L787.4 172.2L789.9 171.8L792.4 171.5L794.9 171.4L797.4 171.4L799.9 171.5L802.4 171.8L804.9 172.1L807.4 172.6L810 173.1L812.5 173.7L815 174.2L817.5 174.8L820 175.4L822.5 176L825 176.6L827.5 177.3L830 178.1L832.6 179L835.1 179.8L837.6 180.7L840.1 181.6L842.6 182.4L845.1 183.2L847.6 184L850.1 184.7L852.6 185.4L855.1 186.1L857.7 186.8L860.2 187.5L862.7 188.2L865.2 188.8L867.7 189.5L870.2 190.2L872.7 190.8L875.2 191.4L877.7 192L880.3 192.6L882.8 193.2L885.3 193.8L887.8 194.4L890.3 194.9" fill="none" stroke="#8a9090" stroke-width="3.2" stroke-linejoin="round"/>
<path d="M601.1 228.2L603.6 228.8L606.2 229.5L608.7 230.3L611.2 231.3L613.7 232.4L616.3 233.5L618.8 234.7L621.3 236L623.8 237.4L626.4 239L628.9 240.7L631.4 242.6L633.9 244.7L636.5 247L639 249.5L641.5 252.4L644.1 255.9L646.6 260L649.1 264.8L651.6 270.8L654.2 278.3L656.7 288.5L659.2 301.7L661.7 315.2L664.3 329.1L666.8 341L669.3 351.5L671.8 361.1L674.4 369.8L676.9 355.5L679.4 341.4L681.9 327.4L684.4 313.3L686.9 299.9L689.4 287.8L691.9 276.6L694.5 267.5L697 260.1L699.5 253.5L702 247.7L704.5 242.6L707 238.1L709.5 234.1L712 230.6L714.5 227.3L717.1 224.4L719.6 221.7L722.1 219.2L724.6 216.7L727.1 213.9L729.6 210.9L732.1 207.6L734.6 204.2L737.1 200.9L739.7 197.8L742.2 195L744.7 192.3L747.2 189.7L749.7 187.3L752.2 184.9L754.7 182.8L757.2 180.8L759.7 178.9L762.2 177L764.8 175.3L767.3 173.7L769.8 172.3L772.3 171.1L774.8 170.1L777.3 169.2L779.8 168.4L782.3 167.6L784.8 166.9L787.4 166.4L789.9 166L792.4 165.8L794.9 165.8L797.4 166L799.9 166.3L802.4 166.8L804.9 167.3L807.4 167.9L810 168.5L812.5 169.2L815 169.8L817.5 170.5L820 171.1L822.5 171.9L825 172.7L827.5 173.7L830 174.6L832.6 175.6L835.1 176.6L837.6 177.6L840.1 178.6L842.6 179.5L845.1 180.4L847.6 181.1L850.1 181.9L852.6 182.7L855.1 183.4L857.7 184.2L860.2 184.9L862.7 185.7L865.2 186.4L867.7 187.1L870.2 187.8L872.7 188.4L875.2 189.1L877.7 189.7L880.3 190.4L882.8 191L885.3 191.6L887.8 192.2L890.3 192.7" fill="none" stroke="#cbcfcf" stroke-width="3.2" stroke-linejoin="round"/>
<path d="M601.1 224.9L603.6 225.4L606 226.1L608.5 226.9L610.9 227.9L613.4 228.9L615.9 230L618.3 231.2L620.8 232.4L623.2 233.7L625.7 235.2L628.2 236.8L630.6 238.7L633.1 240.6L635.6 242.8L638 245.2L640.5 247.8L642.9 250.9L645.4 254.6L647.9 259L650.3 264.5L652.8 271.5L655.2 280.1L657.7 292.5L660.2 306.5L662.6 320.9L665.1 334.9L667.5 346L670 355.7L672.5 364.9L674.9 374L677.4 359.3L679.9 344.8L682.4 330.5L684.9 316L687.4 302.2L690 289.8L692.5 278.2L695 268.8L697.5 261.2L700 254.5L702.5 248.6L705 243.2L707.5 238.3L710 233.9L712.5 230L715 226.7L717.5 223.8L720 221.2L722.5 218.8L725 216.3L727.5 213.5L730 210.2L732.5 206.6L735 202.9L737.5 199.2L740 195.8L742.5 192.8L745 189.8L747.6 187L750.1 184.3L752.6 181.8L755.1 179.4L757.6 177.3L760.1 175.2L762.6 173.2L765.1 171.3L767.6 169.5L770.1 168L772.6 166.7L775.1 165.7L777.6 164.8L780.1 163.8L782.6 163L785.1 162.2L787.6 161.7L790.1 161.3L792.6 161.1L795.1 161.1L797.6 161.4L800.1 161.7L802.6 162.2L805.2 162.8L807.7 163.5L810.2 164.2L812.7 164.9L815.2 165.7L817.7 166.4L820.2 167.2L822.7 168.1L825.2 169L827.7 170.1L830.2 171.2L832.7 172.3L835.2 173.4L837.7 174.5L840.2 175.6L842.7 176.7L845.2 177.6L847.7 178.5L850.2 179.4L852.7 180.3L855.2 181.1L857.7 182L860.2 182.8L862.8 183.6L865.3 184.4L867.8 185.2L870.3 186L872.8 186.8L875.3 187.5L877.8 188.2L880.3 188.9L882.8 189.6L885.3 190.3L887.8 191L890.3 191.6" fill="none" stroke="#7a8080" stroke-width="3.2" stroke-linejoin="round"/>
<path d="M601.1 221.3L603.6 221.8L606 222.5L608.5 223.3L611 224.3L613.4 225.3L615.9 226.4L618.4 227.6L620.9 228.8L623.3 230.2L625.8 231.7L628.3 233.3L630.7 235.1L633.2 237.1L635.7 239.3L638.2 241.7L640.6 244.3L643.1 247.5L645.6 251.2L648 255.8L650.5 261.8L653 269.4L655.4 278.9L657.9 292.5L660.4 307.5L662.9 323.1L665.3 337.8L667.8 349.1L670.3 359L672.7 368.5L675.2 378.1L677.7 362.9L680.2 347.9L682.7 333L685.2 318L687.7 303.7L690.2 290.8L692.7 278.9L695.2 269.1L697.7 261.2L700.2 254.3L702.7 248.1L705.2 242.5L707.7 237.3L710.2 232.5L712.7 228.4L715.2 225L717.7 222.1L720.2 219.6L722.7 217.2L725.2 214.7L727.7 211.9L730.2 208.4L732.7 204.5L735.2 200.4L737.7 196.4L740.2 192.8L742.7 189.5L745.2 186.4L747.7 183.3L750.2 180.4L752.7 177.7L755.2 175.2L757.7 172.9L760.2 170.7L762.7 168.5L765.2 166.5L767.7 164.7L770.2 163L772.7 161.6L775.2 160.4L777.7 159.2L780.3 158.1L782.8 157.1L785.3 156.3L787.8 155.7L790.3 155.5L792.8 155.6L795.3 155.9L797.8 156.3L800.3 156.9L802.8 157.6L805.3 158.3L807.8 159.1L810.3 159.9L812.8 160.8L815.3 161.6L817.8 162.4L820.3 163.4L822.8 164.5L825.3 165.7L827.8 166.9L830.3 168.2L832.8 169.4L835.3 170.7L837.8 171.9L840.3 173L842.8 174L845.3 175L847.8 175.9L850.3 176.8L852.8 177.8L855.3 178.7L857.8 179.6L860.3 180.4L862.8 181.3L865.3 182.1L867.8 182.9L870.3 183.8L872.8 184.5L875.3 185.3L877.8 186L880.3 186.8L882.8 187.5L885.3 188.1L887.8 188.8L890.3 189.4" fill="none" stroke="#a9afaf" stroke-width="3.2" stroke-linejoin="round"/>
<path d="M601.1 228.8L603.6 229.3L606.1 230L608.5 230.8L611 231.8L613.5 232.8L616 233.9L618.5 235.1L620.9 236.4L623.4 237.7L625.9 239.2L628.4 240.9L630.9 242.7L633.3 244.7L635.8 246.9L638.3 249.3L640.8 252L643.2 255.2L645.7 259L648.2 263.6L650.7 269.5L653.2 276.9L655.6 286.3L658.1 299.6L660.6 314L663.1 329.2L665.6 342.8L668 353.2L670.5 362.2L673 371.1L675.5 380.3L678 365.4L680.5 350.6L683 336L685.5 321.3L688 307.2L690.5 294.6L693 282.8L695.5 273.2L698 265.4L700.5 258.7L703 252.6L705.5 247L708 241.8L710.5 237L712.9 232.8L715.4 229.3L717.9 226.2L720.4 223.4L722.9 220.8L725.4 218.5L727.9 216.3L730.4 214.3L732.9 212.5L735.4 210.8L737.9 209.2L740.4 207.6L742.9 206.1L745.4 204.7L747.9 203.3L750.4 202L752.9 200.8L755.4 199.7L757.9 198.6L760.4 197.6L762.9 196.5L765.4 195.5L767.9 194.7L770.4 194L772.9 193.4L775.4 193.1L777.9 192.8L780.4 192.6L782.9 192.3L785.4 192.1L787.9 191.9L790.4 191.7L792.9 191.5L795.4 191.3L797.9 191.2L800.4 191.1L802.9 191L805.4 190.9L807.9 190.8L810.4 190.8L812.9 190.8L815.4 190.8L817.9 190.9L820.4 191.1L822.9 191.2L825.4 191.5L827.9 191.7L830.4 192L832.8 192.2L835.3 192.5L837.8 192.8L840.3 193L842.8 193.3L845.3 193.6L847.8 194L850.3 194.3L852.8 194.7L855.3 195.1L857.8 195.5L860.3 195.9L862.8 196.3L865.3 196.7L867.8 197.2L870.3 197.6L872.8 198L875.3 198.5L877.8 199L880.3 199.5L882.8 200L885.3 200.5L887.8 201.1L890.3 201.6" fill="none" stroke="#2e3335" stroke-width="3.2" stroke-linejoin="round"/>
<path d="M601.1 217.1L603.6 217.1L606.1 217.1L608.7 217.1L611.2 217.1L613.7 217.1L616.2 217.1L618.8 217.1L621.3 217.2L623.8 217.2L626.3 217.3L628.9 217.4L631.4 217.6L633.9 217.8L636.4 218L639 218.3L641.5 219.4L644 221.4L646.5 224.3L649.1 230.1L651.6 237.3L654.1 245.8L656.6 255.9L659.2 268.3L661.7 282.5L664.2 296.8L666.7 311L669.3 325.6L671.8 340.3L674.3 355L676.8 370L679.4 385.1L681.9 376.5L684.4 366.8L686.9 355.9L689.4 343.1L691.9 329.1L694.4 316.1L696.9 304.3L699.5 293.1L702 283L704.5 274.2L707 266.2L709.5 259L712 252.7L714.5 246.8L717 241.2L719.5 236.1L722.1 231.9L724.6 228.7L727.1 226.2L729.6 224.1L732.1 222.2L734.6 220.4L737.1 218.7L739.6 217.1L742.1 215.6L744.7 214.1L747.2 212.6L749.7 211.1L752.2 209.6L754.7 208.2L757.2 207L759.7 205.9L762.2 204.8L764.7 203.8L767.3 202.9L769.8 202.2L772.3 201.5L774.8 200.9L777.3 200.3L779.8 199.9L782.3 199.6L784.8 199.3L787.3 199L789.9 198.8L792.4 198.6L794.9 198.5L797.4 198.4L799.9 198.4L802.4 198.3L804.9 198.3L807.4 198.3L809.9 198.3L812.5 198.3L815 198.4L817.5 198.4L820 198.5L822.5 198.6L825 198.7L827.5 198.8L830 199L832.5 199.2L835.1 199.3L837.6 199.5L840.1 199.7L842.6 199.9L845.1 200.1L847.6 200.3L850.1 200.5L852.6 200.7L855.1 200.8L857.7 201L860.2 201.2L862.7 201.3L865.2 201.5L867.7 201.7L870.2 201.8L872.7 202L875.2 202.2L877.7 202.4L880.3 202.5L882.8 202.7L885.3 202.9L887.8 203.1L890.3 203.3" fill="none" stroke="#3a4042" stroke-width="3.2" stroke-linejoin="round"/>
<path d="M601.1 205.2L603.6 205.2L606.1 205.2L608.6 205.2L611.1 205.2L613.6 205.2L616.1 205.2L618.6 205.2L621.2 205.3L623.7 205.4L626.2 205.6L628.7 205.9L631.2 206.2L633.7 207L636.2 208.7L638.7 211.2L641.2 215.6L643.7 222.6L646.2 231.2L648.7 242.1L651.2 254.6L653.7 269.1L656.2 284.4L658.8 300.1L661.3 317L663.8 332.7L666.3 345L668.8 355.4L671.3 365L673.8 373.3L676.3 380.1L678.8 385.1L681.3 376.4L683.8 366.6L686.3 355.7L688.8 342.8L691.3 328.8L693.7 315.5L696.2 303.6L698.7 292.3L701.2 282L703.7 272.9L706.2 264.8L708.7 257.5L711.2 251.2L713.6 245.7L716.1 240.9L718.6 236.4L721.1 231.9L723.6 227.2L726.1 222L728.6 216.6L731.1 211.2L733.5 206.2L736 201.8L738.5 197.8L741 194L743.5 190.4L746 186.9L748.5 183.2L751 179.6L753.5 176.1L755.9 172.8L758.4 170L760.9 167.3L763.4 164.8L765.9 162.5L768.4 160.6L770.9 158.8L773.4 157.2L775.8 155.7L778.3 154.6L780.8 153.7L783.3 152.8L785.8 152.1L788.3 151.5L790.8 151L793.3 150.7L795.8 150.6L798.2 150.4L800.7 150.3L803.2 150.2L805.7 150.1L808.2 150L810.7 150L813.2 150L815.7 150.1L818.1 150.4L820.6 150.8L823.1 151.2L825.6 151.8L828.1 152.4L830.6 153.2L833.1 154.4L835.6 155.6L838.1 157L840.5 158.4L843 159.8L845.5 161.2L848 162.6L850.5 164.2L853 165.7L855.5 167.2L858 168.6L860.4 170L862.9 171.4L865.4 172.7L867.9 174L870.4 175.3L872.9 176.6L875.4 177.8L877.9 179L880.3 180.2L882.8 181.7L885.3 183.6L887.8 186.2L890.3 189.4" fill="none" stroke="#555b5d" stroke-width="3.2" stroke-linejoin="round"/>
<path d="M601.1 223.2L603.6 223.8L606.1 224.5L608.5 225.3L611 226.2L613.5 227.3L616 228.4L618.5 229.6L620.9 230.8L623.4 232.2L625.9 233.7L628.4 235.3L630.9 237.2L633.3 239.2L635.8 241.4L638.3 243.8L640.8 246.5L643.2 249.6L645.7 253.4L648.2 258.1L650.7 264.3L653.2 272.3L655.6 282.3L658.1 296.5L660.6 311.7L663.1 327.9L665.6 342.4L668 353.5L670.5 363L673 372.5L675.5 382.3L678 366.6L680.5 351.2L683 336L685.5 320.6L688 305.9L690.5 292.7L693 280.4L695.5 270.3L698 262.2L700.5 255.1L703 248.8L705.5 243L708 237.5L710.5 232.4L712.9 228.1L715.4 224.7L717.9 221.9L720.4 219.4L722.9 217.1L725.4 214.6L727.9 211.6L730.4 207.9L732.9 203.6L735.4 199.1L737.9 194.8L740.4 190.8L742.9 187.3L745.4 183.9L747.9 180.6L750.4 177.4L752.9 174.5L755.4 171.8L757.9 169.3L760.4 166.8L762.9 164.5L765.4 162.3L767.9 160.2L770.4 158.5L772.9 157L775.4 155.9L777.9 154.7L780.4 153.7L782.9 152.7L785.4 151.8L787.9 151.2L790.4 150.7L792.9 150.5L795.4 150.6L797.9 150.9L800.4 151.4L802.9 152L805.4 152.7L807.9 153.6L810.4 154.4L812.9 155.4L815.4 156.3L817.9 157.2L820.4 158.1L822.9 159.2L825.4 160.4L827.9 161.6L830.4 163L832.8 164.4L835.3 165.8L837.8 167.1L840.3 168.5L842.8 169.7L845.3 170.9L847.8 172L850.3 173.1L852.8 174.1L855.3 175.2L857.8 176.2L860.3 177.2L862.8 178.2L865.3 179.2L867.8 180.2L870.3 181.1L872.8 182.1L875.3 183L877.8 183.9L880.3 184.7L882.8 185.6L885.3 186.4L887.8 187.2L890.3 188" fill="none" stroke="#9aa0a0" stroke-width="3.2" stroke-linejoin="round"/>
<path d="M601.1 214.6L603.6 214.6L606.1 214.6L608.6 214.6L611.1 214.6L613.5 214.6L616 214.6L618.5 214.6L621 214.7L623.5 214.7L626 214.8L628.5 214.9L631 215.1L633.5 215.2L635.9 215.5L638.4 215.7L640.9 216.6L643.4 218.4L645.9 220.9L648.4 225.7L650.9 232.7L653.4 241.3L655.9 251.8L658.4 264L660.8 278.3L663.3 293.2L665.8 308.1L668.3 323.5L670.8 338.7L673.3 352.9L675.8 366.3L678.3 379L680.8 391.2L683.2 382.1L685.7 371.8L688.2 360.4L690.7 346.8L693.2 332L695.7 318.1L698.2 305.7L700.7 293.8L703.2 282.9L705.7 273.6L708.2 265.2L710.7 257.6L713.2 250.6L715.7 244.3L718.2 238.4L720.7 232.8L723.2 227L725.7 220.7L728.2 214L730.6 207.4L733.1 201.1L735.6 195.5L738.1 190.5L740.6 185.9L743.1 181.4L745.6 177L748.1 172.6L750.6 168.1L753.1 163.7L755.6 159.7L758.1 156.1L760.6 152.8L763.1 149.7L765.6 146.9L768.1 144.4L770.6 142.2L773.1 140.2L775.5 138.4L778 136.9L780.5 135.8L783 134.8L785.5 133.9L788 133.1L790.5 132.5L793 132.1L795.5 131.7L798 131.5L800.5 131.2L803 131.1L805.5 131.1L808 131.4L810.5 131.8L813 132.4L815.5 133.1L818 133.8L820.5 134.8L822.9 136.1L825.4 137.8L827.9 139.6L830.4 141.6L832.9 143.6L835.4 145.5L837.9 147.4L840.4 149.6L842.9 151.7L845.4 153.9L847.9 156L850.4 158L852.9 159.9L855.4 161.8L857.9 163.7L860.4 165.5L862.9 167.4L865.4 169.3L867.8 171.3L870.3 173.2L872.8 175.1L875.3 177L877.8 178.7L880.3 180.4L882.8 182L885.3 183.6L887.8 185.1L890.3 186.6" fill="none" stroke="#14181a" stroke-width="3.2" stroke-linejoin="round"/>
</g>
<path d="M595.4 131.5V439.2H890.3M591.4 141.5H595.4M591.4 215.5H595.4M591.4 290.6H595.4M591.4 364.7H595.4M591.4 439.2H595.4M595.4 439.2V443.2M717.4 439.2V443.2M840.3 439.2V443.2" fill="none" stroke="#12181c" stroke-width="2.9" stroke-linecap="square"/>
<text transform="translate(585.7 140.5) scale(1 1.075)" font-size="32.9" text-anchor="end">0.01</text>
<text transform="translate(579.8 215.6) scale(1 1.075)" font-size="32.9" text-anchor="end">0</text>
<text transform="translate(585.8 290.3) scale(1 1.075)" font-size="32.9" text-anchor="end">-0.01</text>
<text transform="translate(586.8 363.9) scale(1 1.075)" font-size="32.9" text-anchor="end">-0.02</text>
<text transform="translate(586.8 438.9) scale(1 1.075)" font-size="32.9" text-anchor="end">-0.03</text>
<text transform="translate(600.6 472.5) scale(1 1.075)" font-size="32.9" text-anchor="middle">0</text>
<text transform="translate(716.5 472.5) scale(1 1.075)" font-size="32.9" text-anchor="middle">1</text>
<text transform="translate(855.1 472.5) scale(1 1.075)" font-size="32.9" text-anchor="middle">1.5</text>
<g id="wave3">
<path d="M1041.5 254.8L1044 254.8L1046.5 254.8L1049 254.8L1051.5 254.7L1054 254.7L1056.5 254.7L1059 254.6L1061.5 254.6L1064 254.5L1066.5 254.5L1069 254.3L1071.5 253.9L1074 253.4L1076.5 252.8L1079 252.4L1081.5 252L1084 251.9L1086.5 252.3L1089 253.3L1091.5 254.7L1094 256.4L1096.5 259.8L1099 264.9L1101.5 271.3L1104 281L1106.5 292.7L1109 307L1111.5 322.7L1114 337.8L1116.5 352.9L1119 367.4L1121.5 380.6L1124 394.1L1126.5 408.6L1130.9 408L1133.4 397.1L1136 385.5L1138.5 373.3L1141 360L1143.5 346.4L1146 333.9L1148.5 322L1151 310.9L1153.6 301L1156.1 292L1158.6 284.1L1161.1 277.5L1163.6 271.5L1166.1 264.8L1168.6 257.6L1171.1 250.2L1173.7 242.9L1176.2 236.2L1178.7 230.3L1181.2 224.8L1183.7 219.5L1186.2 214.6L1188.7 210.1L1191.3 205.9L1193.8 202L1196.3 198.4L1198.8 195L1201.3 191.9L1203.8 189.1L1206.3 186.4L1208.8 184L1211.4 181.8L1213.9 179.7L1216.4 177.8L1218.9 175.9L1221.4 174.3L1223.9 173L1226.4 172.2L1229 171.5L1231.5 171L1234 170.7L1236.5 170.9L1239 171.4L1241.5 172.3L1244 173.2L1246.6 174.3L1249.1 175.4L1251.6 177L1254.1 178.8L1256.6 180.7L1259.1 182.7L1261.6 184.6L1264.1 186.7L1266.7 189L1269.2 191.2L1271.7 193.5L1274.2 195.8L1276.7 198.1L1279.2 200.2L1281.7 202.4L1284.3 204.5L1286.8 206.7L1289.3 208.8L1291.8 210.8L1294.3 212.8L1296.8 214.6L1299.3 216.3L1301.8 218L1304.4 219.6L1306.9 221.1L1309.4 222.5L1311.9 223.9L1314.4 225.2L1316.9 226.5L1319.4 227.6L1322 228.8L1324.5 229.8L1327 230.8L1329.5 231.7L1332 232.6" fill="none" stroke="#e39aa2" stroke-width="3.2" stroke-linejoin="round"/>
<path d="M1041.5 254.8L1044 254.8L1046.5 254.8L1049 254.8L1051.5 254.7L1054 254.7L1056.5 254.7L1059 254.6L1061.5 254.6L1064 254.5L1066.5 254.5L1069 254.3L1071.5 253.9L1074 253.4L1076.5 252.8L1079 252.4L1081.5 252L1084 251.9L1086.5 252.4L1089 253.3L1091.5 254.7L1094 256.4L1096.5 259.9L1099 264.9L1101.5 271.5L1104 281.8L1106.5 292.6L1109 302.6L1111.5 312.6L1114 322.7L1116.5 332.9L1119 342.9L1121.5 352.3L1124 361.1L1126.5 370.2L1129 380.1L1133.5 379.4L1136 370L1138.5 360.1L1141 349.4L1143.5 337.7L1146 326.3L1148.5 315.9L1151.1 306L1153.6 297.1L1156.1 289.1L1158.6 282.1L1161.1 276.3L1163.6 271.1L1166.1 265.1L1168.7 258.4L1171.2 251.3L1173.7 244.3L1176.2 237.9L1178.7 232.3L1181.2 227L1183.7 222L1186.2 217.4L1188.8 213.1L1191.3 209.2L1193.8 205.5L1196.3 202L1198.8 198.8L1201.3 195.9L1203.8 193.2L1206.4 190.7L1208.9 188.4L1211.4 186.2L1213.9 184.3L1216.4 182.5L1218.9 180.7L1221.4 179.2L1223.9 178L1226.5 177.2L1229 176.5L1231.5 176L1234 175.8L1236.5 176L1239 176.5L1241.5 177.2L1244 178.1L1246.6 179.1L1249.1 180.1L1251.6 181.5L1254.1 183.2L1256.6 185L1259.1 186.8L1261.6 188.6L1264.2 190.5L1266.7 192.5L1269.2 194.6L1271.7 196.7L1274.2 198.9L1276.7 200.9L1279.2 202.9L1281.7 204.9L1284.3 206.8L1286.8 208.8L1289.3 210.8L1291.8 212.6L1294.3 214.4L1296.8 216.1L1299.3 217.7L1301.9 219.2L1304.4 220.6L1306.9 222L1309.4 223.4L1311.9 224.6L1314.4 225.8L1316.9 227L1319.4 228L1322 229.1L1324.5 230L1327 231L1329.5 231.8L1332 232.6" fill="none" stroke="#dc6f7b" stroke-width="3.2" stroke-linejoin="round"/>
<path d="M1041.5 254.8L1044 254.8L1046.5 254.8L1048.9 254.8L1051.4 254.7L1053.9 254.7L1056.4 254.7L1058.9 254.6L1061.4 254.6L1063.8 254.5L1066.3 254.5L1068.8 254.3L1071.3 253.9L1073.8 253.4L1076.3 252.9L1078.7 252.4L1081.2 252.1L1083.7 251.9L1086.2 252.3L1088.7 253.1L1091.2 254.5L1093.6 256.1L1096.1 259.2L1098.6 264L1101.1 270.1L1103.6 280.1L1106 290.7L1108.5 299.1L1111 306.9L1113.5 314.7L1116 322.8L1118.5 330.8L1120.9 338.3L1123.4 345.3L1125.9 352.6L1128.4 360.4L1132.8 359.8L1135.3 352.3L1137.8 344.3L1140.3 335.9L1142.8 326.6L1145.3 317.4L1147.8 309L1150.3 301L1152.8 293.7L1155.2 287.2L1157.7 281.4L1160.2 276.5L1162.7 272.4L1165.2 267.7L1167.7 262L1170.2 255.6L1172.7 249.1L1175.2 242.8L1177.6 237.4L1180.1 232.5L1182.6 227.8L1185.1 223.5L1187.6 219.4L1190.1 215.7L1192.6 212.3L1195.1 209L1197.6 206L1200.1 203.2L1202.5 200.6L1205 198.3L1207.5 196.1L1210 194L1212.5 192.2L1215 190.5L1217.5 188.9L1220 187.3L1222.5 186L1225 185.1L1227.4 184.5L1229.9 183.9L1232.4 183.5L1234.9 183.4L1237.4 183.7L1239.9 184.2L1242.4 184.9L1244.9 185.7L1247.4 186.5L1249.8 187.5L1252.3 188.8L1254.8 190.3L1257.3 191.8L1259.8 193.3L1262.3 194.9L1264.8 196.6L1267.3 198.3L1269.8 200.1L1272.3 202L1274.7 203.8L1277.2 205.5L1279.7 207.2L1282.2 208.9L1284.7 210.6L1287.2 212.3L1289.7 213.9L1292.2 215.5L1294.7 217.1L1297.2 218.5L1299.6 219.8L1302.1 221.1L1304.6 222.4L1307.1 223.6L1309.6 224.7L1312.1 225.8L1314.6 226.8L1317.1 227.8L1319.6 228.7L1322.1 229.6L1324.5 230.4L1327 231.2L1329.5 231.9L1332 232.6" fill="none" stroke="#cf4353" stroke-width="3.2" stroke-linejoin="round"/>
<path d="M1041.5 254.5L1044 254.5L1046.5 254.5L1049 254.4L1051.5 254.4L1054 254.4L1056.5 254.4L1059 254.3L1061.5 254.3L1064 254.2L1066.5 254.1L1069 253.9L1071.5 253.5L1074.1 253L1076.6 252.5L1079.1 252L1081.6 251.7L1084.1 251.6L1086.6 252.1L1089.1 253.1L1091.6 254.3L1094.1 255.6L1096.6 257.1L1099.1 259L1101.6 260.9L1104.1 262.9L1106.6 265.1L1109.1 267.2L1111.6 268.9L1114.1 270.4L1116.6 270.5L1119.1 269.3L1121.6 267.4L1124.1 265.4L1126.6 263.6L1129.1 261.6L1131.7 259.4L1134.2 257.3L1136.7 255.5L1139.2 253.9L1141.7 252.3L1144.2 250.9L1146.7 249.6L1149.2 248.6L1151.7 247.9L1154.2 247.2L1156.7 246.7L1159.2 246.1L1161.7 245.7L1164.2 245.3L1166.7 244.9L1169.2 244.5L1171.7 244.2L1174.2 243.9L1176.7 243.7L1179.2 243.4L1181.7 243.2L1184.2 243L1186.8 242.7L1189.3 242.5L1191.8 242.2L1194.3 242L1196.8 241.7L1199.3 241.4L1201.8 241.1L1204.3 240.9L1206.8 240.6L1209.3 240.4L1211.8 240.1L1214.3 239.9L1216.8 239.6L1219.3 239.4L1221.8 239.2L1224.3 239L1226.8 238.8L1229.3 238.7L1231.8 238.5L1234.3 238.4L1236.8 238.3L1239.3 238.2L1241.8 238.1L1244.4 238L1246.9 238L1249.4 238L1251.9 238L1254.4 238.1L1256.9 238.2L1259.4 238.4L1261.9 238.5L1264.4 238.6L1266.9 238.8L1269.4 238.9L1271.9 239.1L1274.4 239.2L1276.9 239.4L1279.4 239.6L1281.9 239.8L1284.4 240L1286.9 240.2L1289.4 240.4L1291.9 240.7L1294.4 240.9L1296.9 241.1L1299.5 241.3L1302 241.5L1304.5 241.7L1307 241.9L1309.5 242.1L1312 242.3L1314.5 242.5L1317 242.6L1319.5 242.8L1322 243L1324.5 243.2L1327 243.4L1329.5 243.5L1332 243.7" fill="none" stroke="#0c0f10" stroke-width="3.8" stroke-linejoin="round"/>
<path d="M1041.5 255.1L1044 255.1L1046.5 255.1L1049 255.1L1051.5 255.1L1054 255L1056.5 255L1059 254.9L1061.5 254.9L1064 254.8L1066.5 254.8L1069 254.6L1071.5 254.2L1074.1 253.8L1076.6 253.3L1079.1 252.9L1081.6 252.7L1084.1 252.6L1086.6 253L1089.1 253.8L1091.6 255L1094.1 256.2L1096.6 258.2L1099.1 260.6L1101.6 263.2L1104.1 265.7L1106.6 268.5L1109.1 271.2L1111.6 273L1114.1 274.6L1116.6 275.4L1119.1 274.8L1121.6 273L1124.1 270.7L1126.6 268.4L1129.1 266.2L1131.7 263.8L1134.2 261.2L1136.7 258.8L1139.2 256.8L1141.7 254.9L1144.2 253.2L1146.7 251.5L1149.2 250.2L1151.7 249.1L1154.2 248.2L1156.7 247.3L1159.2 246.6L1161.7 245.9L1164.2 245.3L1166.7 244.8L1169.2 244.5L1171.7 244.3L1174.2 244.2L1176.7 244L1179.2 244L1181.7 243.9L1184.2 243.8L1186.8 243.8L1189.3 243.7L1191.8 243.6L1194.3 243.5L1196.8 243.4L1199.3 243.3L1201.8 243.2L1204.3 243.1L1206.8 243L1209.3 242.9L1211.8 242.9L1214.3 242.8L1216.8 242.7L1219.3 242.6L1221.8 242.5L1224.3 242.5L1226.8 242.4L1229.3 242.3L1231.8 242.3L1234.3 242.2L1236.8 242.2L1239.3 242.2L1241.8 242.1L1244.4 242.1L1246.9 242.1L1249.4 242.1L1251.9 242.2L1254.4 242.2L1256.9 242.3L1259.4 242.4L1261.9 242.5L1264.4 242.6L1266.9 242.7L1269.4 242.8L1271.9 242.9L1274.4 243L1276.9 243.1L1279.4 243.3L1281.9 243.4L1284.4 243.6L1286.9 243.7L1289.4 243.9L1291.9 244L1294.4 244.2L1296.9 244.4L1299.5 244.5L1302 244.7L1304.5 244.8L1307 244.9L1309.5 245.1L1312 245.2L1314.5 245.3L1317 245.5L1319.5 245.6L1322 245.7L1324.5 245.9L1327 246L1329.5 246.1L1332 246.2" fill="none" stroke="#2c3032" stroke-width="3.8" stroke-linejoin="round"/>
<path d="M1041.5 255.7L1044 255.7L1046.5 255.7L1049 255.7L1051.5 255.7L1054 255.7L1056.5 255.6L1059 255.6L1061.5 255.5L1064 255.5L1066.5 255.4L1069 255.3L1071.5 255L1074.1 254.7L1076.6 254.4L1079.1 254.1L1081.6 253.9L1084.1 253.8L1086.6 254.2L1089.1 254.9L1091.6 255.8L1094.1 256.7L1096.6 258L1099.1 259.5L1101.6 261L1104.1 262.7L1106.6 264.5L1109.1 266.2L1111.6 267.6L1114.1 268.8L1116.6 268.9L1119.1 268.1L1121.6 266.8L1124.1 265.4L1126.6 264.1L1129.1 262.7L1131.7 261.2L1134.2 259.8L1136.7 258.5L1139.2 257.3L1141.7 256.3L1144.2 255.3L1146.7 254.4L1149.2 253.7L1151.7 253.1L1154.2 252.7L1156.7 252.2L1159.2 251.8L1161.7 251.4L1164.2 251.1L1166.7 250.9L1169.2 250.7L1171.7 250.7L1174.2 250.6L1176.7 250.6L1179.2 250.6L1181.7 250.5L1184.2 250.5L1186.8 250.5L1189.3 250.5L1191.8 250.5L1194.3 250.4L1196.8 250.4L1199.3 250.4L1201.8 250.3L1204.3 250.3L1206.8 250.3L1209.3 250.3L1211.8 250.2L1214.3 250.2L1216.8 250.2L1219.3 250.2L1221.8 250.2L1224.3 250.1L1226.8 250.1L1229.3 250.1L1231.8 250.1L1234.3 250.1L1236.8 250.1L1239.3 250.1L1241.8 250L1244.4 250L1246.9 250L1249.4 250L1251.9 250L1254.4 250.1L1256.9 250.1L1259.4 250.1L1261.9 250.1L1264.4 250.2L1266.9 250.2L1269.4 250.2L1271.9 250.3L1274.4 250.3L1276.9 250.4L1279.4 250.4L1281.9 250.4L1284.4 250.5L1286.9 250.5L1289.4 250.6L1291.9 250.6L1294.4 250.7L1296.9 250.7L1299.5 250.8L1302 250.8L1304.5 250.9L1307 250.9L1309.5 250.9L1312 251L1314.5 251L1317 251.1L1319.5 251.1L1322 251.2L1324.5 251.2L1327 251.2L1329.5 251.3L1332 251.3" fill="none" stroke="#808887" stroke-width="3.8" stroke-linejoin="round"/>
<path d="M1041.5 253.8L1044 253.8L1046.5 253.8L1049 253.8L1051.5 253.8L1054 253.8L1056.5 253.7L1059 253.7L1061.5 253.6L1064 253.6L1066.5 253.5L1069 253.3L1071.5 252.8L1074.1 252.3L1076.6 251.7L1079.1 251.1L1081.6 250.8L1084.1 250.7L1086.6 251.2L1089.1 252.2L1091.6 253.6L1094.1 255L1096.6 256.9L1099.1 259.1L1101.6 261.4L1104.1 263.8L1106.6 266.4L1109.1 268.9L1111.6 270.6L1114.1 272.1L1116.6 272.9L1119.1 272.4L1121.6 271.1L1124.1 269.3L1126.6 267.6L1129.1 265.9L1131.7 264.1L1134.2 262.2L1136.7 260.4L1139.2 258.8L1141.7 257.4L1144.2 256.1L1146.7 254.9L1149.2 253.8L1151.7 253L1154.2 252.3L1156.7 251.7L1159.2 251.1L1161.7 250.6L1164.2 250.2L1166.7 249.8L1169.2 249.5L1171.7 249.3L1174.2 249.2L1176.7 249.1L1179.2 249L1181.7 248.9L1184.2 248.8L1186.8 248.8L1189.3 248.7L1191.8 248.6L1194.3 248.5L1196.8 248.3L1199.3 248.2L1201.8 248.1L1204.3 248L1206.8 247.9L1209.3 247.8L1211.8 247.7L1214.3 247.6L1216.8 247.5L1219.3 247.4L1221.8 247.3L1224.3 247.3L1226.8 247.2L1229.3 247.1L1231.8 247.1L1234.3 247L1236.8 247L1239.3 246.9L1241.8 246.9L1244.4 246.9L1246.9 246.9L1249.4 246.9L1251.9 246.9L1254.4 246.9L1256.9 247L1259.4 247L1261.9 247.1L1264.4 247.2L1266.9 247.2L1269.4 247.3L1271.9 247.4L1274.4 247.4L1276.9 247.5L1279.4 247.6L1281.9 247.7L1284.4 247.8L1286.9 247.9L1289.4 248L1291.9 248.1L1294.4 248.2L1296.9 248.3L1299.5 248.3L1302 248.4L1304.5 248.5L1307 248.6L1309.5 248.7L1312 248.8L1314.5 248.9L1317 248.9L1319.5 249L1322 249.1L1324.5 249.2L1327 249.2L1329.5 249.3L1332 249.4" fill="none" stroke="#8a9291" stroke-width="3.8" stroke-linejoin="round"/>
<path d="M1041.5 255.1L1044 255.1L1046.5 255.1L1049 255.1L1051.5 255.1L1054 255L1056.5 255L1059 254.9L1061.5 254.9L1064 254.8L1066.5 254.8L1069 254.6L1071.5 254.2L1074.1 253.8L1076.6 253.3L1079.1 252.9L1081.6 252.7L1084.1 252.6L1086.6 253L1089.1 253.8L1091.6 254.9L1094.1 256.3L1096.6 258.5L1099.1 261.4L1101.6 264.4L1104.1 267.4L1106.6 270.7L1109.1 273.8L1111.6 275.7L1114.1 277.2L1116.6 278.3L1119.1 278.5L1121.6 277.4L1124.1 275.4L1126.6 273L1129.1 270.8L1131.7 268.5L1134.2 266L1136.7 263.5L1139.2 261.2L1141.7 259.3L1144.2 257.5L1146.7 255.8L1149.2 254.2L1151.7 252.9L1154.2 251.9L1156.7 251L1159.2 250.1L1161.7 249.3L1164.2 248.6L1166.7 248.1L1169.2 247.7L1171.7 247.4L1174.2 247.3L1176.7 247.1L1179.2 247L1181.7 246.9L1184.2 246.8L1186.8 246.7L1189.3 246.6L1191.8 246.4L1194.3 246.3L1196.8 246.2L1199.3 246L1201.8 245.9L1204.3 245.8L1206.8 245.6L1209.3 245.5L1211.8 245.4L1214.3 245.3L1216.8 245.1L1219.3 245L1221.8 244.9L1224.3 244.8L1226.8 244.7L1229.3 244.7L1231.8 244.6L1234.3 244.5L1236.8 244.5L1239.3 244.4L1241.8 244.4L1244.4 244.3L1246.9 244.3L1249.4 244.3L1251.9 244.4L1254.4 244.4L1256.9 244.5L1259.4 244.5L1261.9 244.6L1264.4 244.7L1266.9 244.8L1269.4 244.9L1271.9 244.9L1274.4 245L1276.9 245.1L1279.4 245.2L1281.9 245.3L1284.4 245.4L1286.9 245.6L1289.4 245.7L1291.9 245.8L1294.4 245.9L1296.9 246.1L1299.5 246.2L1302 246.3L1304.5 246.4L1307 246.5L1309.5 246.6L1312 246.7L1314.5 246.8L1317 246.9L1319.5 247L1322 247.1L1324.5 247.2L1327 247.3L1329.5 247.4L1332 247.5" fill="none" stroke="#4a5050" stroke-width="3.8" stroke-linejoin="round"/>
<path d="M1041.5 256.4L1044 256.4L1046.5 256.4L1049 256.3L1051.5 256.3L1054 256.3L1056.5 256.3L1059 256.2L1061.5 256.2L1064 256.1L1066.5 256.1L1069 255.9L1071.5 255.5L1074.1 255.1L1076.6 254.6L1079.1 254.2L1081.6 253.9L1084.1 253.8L1086.6 254.2L1089.1 255.1L1091.6 256.2L1094.1 257.6L1096.6 260L1099.1 263.2L1101.6 266.7L1104.1 270L1106.6 273.8L1109.1 277.1L1111.6 279.1L1114.1 280.7L1116.6 281.8L1119.1 282.4L1121.6 281.8L1124.1 280L1126.6 277.6L1129.1 275.3L1131.7 273L1134.2 270.5L1136.7 268L1139.2 265.5L1141.7 263.4L1144.2 261.5L1146.7 259.8L1149.2 258.1L1151.7 256.7L1154.2 255.5L1156.7 254.5L1159.2 253.7L1161.7 252.9L1164.2 252.2L1166.7 251.6L1169.2 251L1171.7 250.5L1174.2 250L1176.7 249.6L1179.2 249.2L1181.7 248.9L1184.2 248.5L1186.8 248.1L1189.3 247.7L1191.8 247.3L1194.3 246.9L1196.8 246.4L1199.3 246L1201.8 245.6L1204.3 245.1L1206.8 244.7L1209.3 244.3L1211.8 243.9L1214.3 243.5L1216.8 243.2L1219.3 242.8L1221.8 242.4L1224.3 242.1L1226.8 241.8L1229.3 241.6L1231.8 241.4L1234.3 241.2L1236.8 241L1239.3 240.8L1241.8 240.7L1244.4 240.6L1246.9 240.5L1249.4 240.5L1251.9 240.6L1254.4 240.7L1256.9 240.8L1259.4 240.9L1261.9 241L1264.4 241.2L1266.9 241.3L1269.4 241.5L1271.9 241.6L1274.4 241.8L1276.9 242L1279.4 242.1L1281.9 242.3L1284.4 242.5L1286.9 242.8L1289.4 243L1291.9 243.2L1294.4 243.4L1296.9 243.6L1299.5 243.9L1302 244.1L1304.5 244.3L1307 244.4L1309.5 244.6L1312 244.8L1314.5 245L1317 245.2L1319.5 245.4L1322 245.5L1324.5 245.7L1327 245.9L1329.5 246.1L1332 246.2" fill="none" stroke="#808887" stroke-width="3.8" stroke-linejoin="round"/>
<path d="M1041.5 254.5L1044 254.5L1046.5 254.5L1049 254.4L1051.5 254.4L1054 254.4L1056.5 254.4L1059 254.3L1061.5 254.3L1064 254.2L1066.5 254.1L1069 254L1071.5 253.6L1074.1 253.2L1076.6 252.7L1079.1 252.3L1081.6 252L1084.1 251.9L1086.6 252.3L1089.1 253.1L1091.6 254.3L1094.1 255.7L1096.6 258.6L1099.1 262.6L1101.6 266.7L1104.1 270.7L1106.6 275.3L1109.1 279.3L1111.6 281.6L1114.1 283.4L1116.6 284.7L1119.1 285.5L1121.6 285.2L1124.1 283.6L1126.6 281.2L1129.1 278.8L1131.7 276.5L1134.2 273.9L1136.7 271.2L1139.2 268.6L1141.7 266.3L1144.2 264.3L1146.7 262.5L1149.2 260.7L1151.7 259.2L1154.2 257.9L1156.7 256.8L1159.2 255.9L1161.7 255.2L1164.2 254.4L1166.7 253.7L1169.2 253.1L1171.7 252.3L1174.2 251.6L1176.7 250.9L1179.2 250.2L1181.7 249.5L1184.2 248.8L1186.8 248.1L1189.3 247.4L1191.8 246.7L1194.3 245.9L1196.8 245.2L1199.3 244.4L1201.8 243.6L1204.3 242.9L1206.8 242.2L1209.3 241.5L1211.8 240.8L1214.3 240.1L1216.8 239.4L1219.3 238.8L1221.8 238.2L1224.3 237.6L1226.8 237.1L1229.3 236.7L1231.8 236.3L1234.3 236L1236.8 235.6L1239.3 235.3L1241.8 235L1244.4 234.9L1246.9 234.8L1249.4 234.8L1251.9 234.9L1254.4 235L1256.9 235.2L1259.4 235.3L1261.9 235.5L1264.4 235.8L1266.9 236L1269.4 236.2L1271.9 236.4L1274.4 236.6L1276.9 236.9L1279.4 237.1L1281.9 237.4L1284.4 237.7L1286.9 238L1289.4 238.4L1291.9 238.7L1294.4 239L1296.9 239.3L1299.5 239.6L1302 239.9L1304.5 240.2L1307 240.5L1309.5 240.8L1312 241L1314.5 241.3L1317 241.5L1319.5 241.8L1322 242.1L1324.5 242.3L1327 242.6L1329.5 242.8L1332 243.1" fill="none" stroke="#dfe2e2" stroke-width="3.8" stroke-linejoin="round"/>
<path d="M1041.5 253.2L1044 253.2L1046.5 253.2L1049 253.2L1051.5 253.2L1054 253.1L1056.5 253.1L1059 253L1061.5 253L1064 252.9L1066.5 252.9L1069 252.6L1071.5 252.2L1074.1 251.6L1076.6 251L1079.1 250.5L1081.6 250.1L1084.1 250L1086.6 250.5L1089.1 251.5L1091.6 252.8L1094.1 254.6L1096.6 257.8L1099.1 262.3L1101.6 267L1104.1 271.5L1106.6 276.6L1109.1 281.1L1111.6 283.7L1114.1 285.5L1116.6 287L1119.1 287.9L1121.6 288L1124.1 286.6L1126.6 284.2L1129.1 281.5L1131.7 279.1L1134.2 276.5L1136.7 273.6L1139.2 270.9L1141.7 268.3L1144.2 266.2L1146.7 264.2L1149.2 262.3L1151.7 260.6L1154.2 259.2L1156.7 258L1159.2 257L1161.7 256.1L1164.2 255.3L1166.7 254.5L1169.2 253.8L1171.7 252.9L1174.2 252.1L1176.7 251.2L1179.2 250.4L1181.7 249.5L1184.2 248.7L1186.8 247.8L1189.3 247L1191.8 246.1L1194.3 245.2L1196.8 244.2L1199.3 243.3L1201.8 242.4L1204.3 241.4L1206.8 240.6L1209.3 239.7L1211.8 238.9L1214.3 238.1L1216.8 237.2L1219.3 236.4L1221.8 235.7L1224.3 235L1226.8 234.5L1229.3 234L1231.8 233.5L1234.3 233L1236.8 232.6L1239.3 232.2L1241.8 231.9L1244.4 231.7L1246.9 231.6L1249.4 231.7L1251.9 231.8L1254.4 231.9L1256.9 232.1L1259.4 232.3L1261.9 232.5L1264.4 232.8L1266.9 233.1L1269.4 233.4L1271.9 233.6L1274.4 233.9L1276.9 234.2L1279.4 234.5L1281.9 234.9L1284.4 235.2L1286.9 235.6L1289.4 236L1291.9 236.4L1294.4 236.8L1296.9 237.2L1299.5 237.6L1302 237.9L1304.5 238.3L1307 238.6L1309.5 239L1312 239.3L1314.5 239.6L1317 239.9L1319.5 240.2L1322 240.6L1324.5 240.9L1327 241.2L1329.5 241.5L1332 241.8" fill="none" stroke="#808887" stroke-width="3.8" stroke-linejoin="round"/>
<path d="M1041.5 255.7L1044 255.7L1046.5 255.7L1049 255.7L1051.5 255.7L1054 255.7L1056.5 255.6L1059 255.6L1061.5 255.5L1064 255.5L1066.5 255.4L1069 255.2L1071.5 254.9L1074.1 254.6L1076.6 254.2L1079.1 253.8L1081.6 253.6L1084.1 253.5L1086.6 253.8L1089.1 254.6L1091.6 255.6L1094.1 257L1096.6 260.2L1099.1 264.7L1101.6 269.5L1104.1 274L1106.6 279.2L1109.1 283.7L1111.6 286.2L1114.1 287.9L1116.6 289.4L1119.1 290.3L1121.6 290.6L1124.1 289.6L1126.6 287.3L1129.1 284.5L1131.7 282L1134.2 279.3L1136.7 276.4L1139.2 273.5L1141.7 270.8L1144.2 268.5L1146.7 266.4L1149.2 264.4L1151.7 262.6L1154.2 261L1156.7 259.7L1159.2 258.5L1161.7 257.4L1164.2 256.4L1166.7 255.6L1169.2 254.9L1171.7 254.3L1174.2 253.8L1176.7 253.4L1179.2 253.1L1181.7 252.8L1184.2 252.5L1186.8 252.2L1189.3 251.8L1191.8 251.4L1194.3 251L1196.8 250.6L1199.3 250.2L1201.8 249.8L1204.3 249.5L1206.8 249.1L1209.3 248.7L1211.8 248.4L1214.3 248L1216.8 247.7L1219.3 247.3L1221.8 247L1224.3 246.7L1226.8 246.5L1229.3 246.3L1231.8 246.1L1234.3 245.9L1236.8 245.7L1239.3 245.5L1241.8 245.4L1244.4 245.3L1246.9 245.3L1249.4 245.3L1251.9 245.3L1254.4 245.4L1256.9 245.4L1259.4 245.5L1261.9 245.5L1264.4 245.6L1266.9 245.7L1269.4 245.8L1271.9 245.8L1274.4 245.9L1276.9 246L1279.4 246.1L1281.9 246.2L1284.4 246.3L1286.9 246.4L1289.4 246.5L1291.9 246.6L1294.4 246.7L1296.9 246.8L1299.5 246.9L1302 247L1304.5 247.1L1307 247.2L1309.5 247.3L1312 247.4L1314.5 247.5L1317 247.6L1319.5 247.7L1322 247.8L1324.5 247.9L1327 248L1329.5 248L1332 248.1" fill="none" stroke="#363b3c" stroke-width="3.8" stroke-linejoin="round"/>
<path d="M1041.5 257L1044 257L1046.5 257L1049 257L1051.5 257L1054 256.9L1056.5 256.9L1059 256.8L1061.5 256.8L1064 256.7L1066.5 256.7L1069 256.5L1071.5 256.1L1074.1 255.6L1076.6 255L1079.1 254.6L1081.6 254.3L1084.1 254.2L1086.6 254.6L1089.1 255.5L1091.6 256.7L1094.1 258.3L1096.6 261.7L1099.1 266.3L1101.6 271.1L1104.1 275.8L1106.6 281.1L1109.1 285.7L1111.6 288.2L1114.1 290L1116.6 291.4L1119.1 292.4L1121.6 292.8L1124.1 292.2L1126.6 290L1129.1 287.2L1131.7 284.5L1134.2 281.8L1136.7 278.8L1139.2 275.7L1141.7 272.8L1144.2 270.3L1146.7 268.1L1149.2 266L1151.7 264.1L1154.2 262.4L1156.7 260.9L1159.2 259.7L1161.7 258.6L1164.2 257.6L1166.7 256.7L1169.2 255.8L1171.7 254.8L1174.2 253.8L1176.7 252.8L1179.2 251.8L1181.7 250.8L1184.2 249.8L1186.8 248.8L1189.3 247.8L1191.8 246.7L1194.3 245.6L1196.8 244.5L1199.3 243.4L1201.8 242.3L1204.3 241.3L1206.8 240.2L1209.3 239.2L1211.8 238.3L1214.3 237.3L1216.8 236.3L1219.3 235.4L1221.8 234.5L1224.3 233.7L1226.8 233.1L1229.3 232.5L1231.8 231.9L1234.3 231.4L1236.8 230.9L1239.3 230.4L1241.8 230.1L1244.4 229.8L1246.9 229.7L1249.4 229.8L1251.9 229.9L1254.4 230L1256.9 230.2L1259.4 230.4L1261.9 230.7L1264.4 231L1266.9 231.3L1269.4 231.6L1271.9 231.8L1274.4 232.1L1276.9 232.4L1279.4 232.8L1281.9 233.2L1284.4 233.6L1286.9 234L1289.4 234.4L1291.9 234.8L1294.4 235.2L1296.9 235.6L1299.5 236L1302 236.4L1304.5 236.8L1307 237.2L1309.5 237.5L1312 237.9L1314.5 238.2L1317 238.5L1319.5 238.9L1322 239.2L1324.5 239.5L1327 239.9L1329.5 240.2L1332 240.5" fill="none" stroke="#8a9291" stroke-width="3.8" stroke-linejoin="round"/>
<path d="M1041.5 255.1L1044 255.1L1046.5 255.1L1049 255.1L1051.5 255.1L1054 255L1056.5 255L1059 254.9L1061.5 254.9L1064 254.8L1066.5 254.8L1069 254.5L1071.5 254.1L1074.1 253.5L1076.6 252.9L1079.1 252.4L1081.6 252L1084.1 251.9L1086.6 252.4L1089.1 253.4L1091.6 254.7L1094.1 256.5L1096.6 260.3L1099.1 265.6L1101.6 271.2L1104.1 276.6L1106.6 282.7L1109.1 287.9L1111.6 290.7L1114.1 292.6L1116.6 294.2L1119.1 295.4L1121.6 296L1124.1 295.7L1126.6 293.7L1129.1 290.8L1131.7 287.8L1134.2 285L1136.7 281.8L1139.2 278.6L1141.7 275.4L1144.2 272.6L1146.7 270.2L1149.2 267.9L1151.7 265.9L1154.2 264L1156.7 262.3L1159.2 260.9L1161.7 259.7L1164.2 258.6L1166.7 257.5L1169.2 256.5L1171.7 255.4L1174.2 254.3L1176.7 253.2L1179.2 252.1L1181.7 251L1184.2 249.9L1186.8 248.8L1189.3 247.7L1191.8 246.5L1194.3 245.3L1196.8 244.1L1199.3 242.9L1201.8 241.7L1204.3 240.5L1206.8 239.4L1209.3 238.3L1211.8 237.2L1214.3 236.1L1216.8 235.1L1219.3 234L1221.8 233.1L1224.3 232.2L1226.8 231.5L1229.3 230.9L1231.8 230.2L1234.3 229.6L1236.8 229.1L1239.3 228.6L1241.8 228.2L1244.4 227.9L1246.9 227.8L1249.4 227.9L1251.9 228L1254.4 228.1L1256.9 228.3L1259.4 228.6L1261.9 228.9L1264.4 229.2L1266.9 229.5L1269.4 229.8L1271.9 230.1L1274.4 230.4L1276.9 230.7L1279.4 231.1L1281.9 231.5L1284.4 231.9L1286.9 232.3L1289.4 232.7L1291.9 233.2L1294.4 233.6L1296.9 234.1L1299.5 234.5L1302 234.9L1304.5 235.3L1307 235.7L1309.5 236.1L1312 236.4L1314.5 236.8L1317 237.2L1319.5 237.5L1322 237.9L1324.5 238.2L1327 238.6L1329.5 238.9L1332 239.3" fill="none" stroke="#808887" stroke-width="3.8" stroke-linejoin="round"/>
<path d="M1041.5 253.2L1044 253.2L1046.5 253.2L1049 253.2L1051.5 253.2L1054 253.1L1056.5 253.1L1059 253L1061.5 253L1064 252.9L1066.5 252.9L1069 252.6L1071.5 252.1L1074.1 251.5L1076.6 250.8L1079.1 250.2L1081.6 249.8L1084.1 249.7L1086.6 250.2L1089.1 251.3L1091.6 252.8L1094.1 254.5L1096.6 257.5L1099.1 261.4L1101.6 265.5L1104.1 269.5L1106.6 274L1109.1 278L1111.6 280.4L1114.1 282.2L1116.6 283.6L1119.1 284.3L1121.6 283.6L1124.1 281.6L1126.6 278.9L1129.1 276.3L1131.7 273.7L1134.2 270.9L1136.7 268L1139.2 265.2L1141.7 262.8L1144.2 260.7L1146.7 258.7L1149.2 256.9L1151.7 255.2L1154.2 253.9L1156.7 252.8L1159.2 251.9L1161.7 251L1164.2 250.2L1166.7 249.5L1169.2 248.8L1171.7 248.3L1174.2 247.7L1176.7 247.3L1179.2 246.9L1181.7 246.5L1184.2 246.1L1186.8 245.7L1189.3 245.2L1191.8 244.8L1194.3 244.3L1196.8 243.8L1199.3 243.3L1201.8 242.9L1204.3 242.4L1206.8 241.9L1209.3 241.5L1211.8 241.1L1214.3 240.7L1216.8 240.2L1219.3 239.8L1221.8 239.4L1224.3 239.1L1226.8 238.8L1229.3 238.6L1231.8 238.3L1234.3 238.1L1236.8 237.8L1239.3 237.6L1241.8 237.5L1244.4 237.4L1246.9 237.3L1249.4 237.4L1251.9 237.4L1254.4 237.5L1256.9 237.7L1259.4 237.8L1261.9 238L1264.4 238.2L1266.9 238.3L1269.4 238.5L1271.9 238.7L1274.4 238.9L1276.9 239.1L1279.4 239.3L1281.9 239.6L1284.4 239.8L1286.9 240.1L1289.4 240.4L1291.9 240.6L1294.4 240.9L1296.9 241.2L1299.5 241.4L1302 241.7L1304.5 241.9L1307 242.1L1309.5 242.4L1312 242.6L1314.5 242.8L1317 243L1319.5 243.3L1322 243.5L1324.5 243.7L1327 243.9L1329.5 244.1L1332 244.3" fill="none" stroke="#868e8d" stroke-width="3.8" stroke-linejoin="round"/>
<path d="M1041.5 257L1044 257L1046.5 257L1049 257L1051.5 257L1054 256.9L1056.5 256.9L1059 256.8L1061.5 256.8L1064 256.7L1066.5 256.7L1069 256.5L1071.5 256.1L1074.1 255.7L1076.6 255.2L1079.1 254.8L1081.6 254.6L1084.1 254.5L1086.6 254.9L1089.1 255.7L1091.6 256.9L1094.1 258.1L1096.6 260.1L1099.1 262.5L1101.6 265.1L1104.1 267.6L1106.6 270.5L1109.1 273.1L1111.6 274.9L1114.1 276.3L1116.6 277.2L1119.1 277L1121.6 275.5L1124.1 273.2L1126.6 270.9L1129.1 268.7L1131.7 266.3L1134.2 263.8L1136.7 261.3L1139.2 259.2L1141.7 257.3L1144.2 255.5L1146.7 253.9L1149.2 252.4L1151.7 251.2L1154.2 250.3L1156.7 249.4L1159.2 248.5L1161.7 247.7L1164.2 247.1L1166.7 246.6L1169.2 246.3L1171.7 246.2L1174.2 246.3L1176.7 246.3L1179.2 246.4L1181.7 246.5L1184.2 246.7L1186.8 246.8L1189.3 246.9L1191.8 247L1194.3 247.1L1196.8 247.2L1199.3 247.3L1201.8 247.3L1204.3 247.4L1206.8 247.5L1209.3 247.6L1211.8 247.7L1214.3 247.8L1216.8 247.9L1219.3 248L1221.8 248L1224.3 248.1L1226.8 248.2L1229.3 248.2L1231.8 248.2L1234.3 248.3L1236.8 248.3L1239.3 248.4L1241.8 248.4L1244.4 248.4L1246.9 248.4L1249.4 248.5L1251.9 248.5L1254.4 248.5L1256.9 248.6L1259.4 248.6L1261.9 248.6L1264.4 248.7L1266.9 248.7L1269.4 248.7L1271.9 248.8L1274.4 248.8L1276.9 248.8L1279.4 248.9L1281.9 249L1284.4 249L1286.9 249.1L1289.4 249.1L1291.9 249.2L1294.4 249.3L1296.9 249.3L1299.5 249.4L1302 249.4L1304.5 249.5L1307 249.5L1309.5 249.6L1312 249.6L1314.5 249.7L1317 249.7L1319.5 249.8L1322 249.8L1324.5 249.9L1327 249.9L1329.5 250L1332 250" fill="none" stroke="#808887" stroke-width="3.8" stroke-linejoin="round"/>
</g>
<path d="M1036.4 129V437.3H1332.4M1032.4 129H1036.4M1032.4 192.3H1036.4M1032.4 252.6H1036.4M1032.4 314.4H1036.4M1032.4 375.7H1036.4M1032.4 437.3H1036.4M1036.4 437.3V441.3M1159 437.3V441.3M1281.9 437.3V441.3" fill="none" stroke="#12181c" stroke-width="2.9" stroke-linecap="square"/>
<text transform="translate(1022.9 129.3) scale(1 1.075)" font-size="32.9" text-anchor="end">0.1</text>
<text transform="translate(1025.8 191.1) scale(1 1.075)" font-size="32.9" text-anchor="end">0.05</text>
<text transform="translate(1020.3 252.3) scale(1 1.075)" font-size="32.9" text-anchor="end">0</text>
<text transform="translate(1026.9 314.2) scale(1 1.075)" font-size="32.9" text-anchor="end">-0.05</text>
<text transform="translate(1024.7 376) scale(1 1.075)" font-size="32.9" text-anchor="end">-0.1</text>
<text transform="translate(1028.3 436.9) scale(1 1.075)" font-size="32.9" text-anchor="end">-0.15</text>
<text transform="translate(1047.4 472.5) scale(1 1.075)" font-size="32.9" text-anchor="middle">0</text>
<text transform="translate(1158.5 472.5) scale(1 1.075)" font-size="32.9" text-anchor="middle">1</text>
<text transform="translate(1294 472.5) scale(1 1.075)" font-size="32.9" text-anchor="middle">1.5</text>
<rect x="1585.4" y="195.3" width="64.3" height="274.2" fill="#d0c813"/>
<rect x="1665" y="219" width="64.8" height="250.5" fill="#12248f"/>
<path d="M1521.4 131.2V469.5H1794.4M1517.4 131.2H1521.4M1517.4 199.3H1521.4M1517.4 267H1521.4M1517.4 334.6H1521.4M1517.4 402H1521.4M1517.4 469.5H1521.4M1617.3 469.5V473.5M1697.5 469.5V473.5" fill="none" stroke="#12181c" stroke-width="2.9" stroke-linecap="square"/>
<text x="1648" y="89" text-anchor="middle">monkey 1</text>
<text x="1605.4" y="513.6" text-anchor="middle" style="fill:#a3a838;stroke:#a3a838">V4</text>
<text x="1702" y="513.6" text-anchor="middle" style="fill:#1d2f8e;stroke:#1d2f8e">dlPFC</text>
<rect x="1909" y="189" width="64.6" height="280.5" fill="#d0c813"/>
<rect x="1989.3" y="229" width="64.4" height="240.5" fill="#12248f"/>
<path d="M1845.2 131.2V469.5H2118.8M1841.2 131.2H1845.2M1841.2 199.3H1845.2M1841.2 267H1845.2M1841.2 334.6H1845.2M1841.2 402H1845.2M1841.2 469.5H1845.2M1941.5 469.5V473.5M2021.2 469.5V473.5" fill="none" stroke="#12181c" stroke-width="2.9" stroke-linecap="square"/>
<text x="1964.8" y="89" text-anchor="middle">monkey 2</text>
<text x="1929.7" y="513.6" text-anchor="middle" style="fill:#a3a838;stroke:#a3a838">V4</text>
<text x="2026.1" y="513.6" text-anchor="middle" style="fill:#1d2f8e;stroke:#1d2f8e">dlPFC</text>
<text transform="translate(1507.9 131.3) scale(1 1.075)" font-size="32.9" text-anchor="end">100</text>
<text transform="translate(1507.9 198.8) scale(1 1.075)" font-size="32.9" text-anchor="end">80</text>
<text transform="translate(1507.9 266.1) scale(1 1.075)" font-size="32.9" text-anchor="end">60</text>
<text transform="translate(1507.9 333.8) scale(1 1.075)" font-size="32.9" text-anchor="end">40</text>
<text transform="translate(1507.9 401.5) scale(1 1.075)" font-size="32.9" text-anchor="end">20</text>
<text transform="translate(1507.9 469.3) scale(1 1.075)" font-size="32.9" text-anchor="end">0</text>
<text transform="translate(1437.7 283.2) rotate(-90)" font-size="34.4" text-anchor="middle">Stable cells (%)</text>
<text x="563.8" y="618.4" font-size="40.4" text-anchor="middle" font-weight="bold">V4</text>
<text x="1533.8" y="618.4" font-size="40.6" text-anchor="middle" font-weight="bold">dlPFC</text>
<text transform="translate(58 778.7) rotate(-90)" text-anchor="middle">Cells with</text>
<text transform="translate(98.8 778.6) rotate(-90)" font-size="34" text-anchor="middle" xml:space="preserve">significant responses  (%)</text>
<text x="1013" y="1005" text-anchor="middle">Session number</text>
<path d="M184.6 691.2V930.7H551M180.6 691.2H184.6M180.6 811H184.6M180.6 930.7H184.6M184.6 930.7V934.7M291.9 930.7V934.7M399.1 930.7V934.7M506.4 930.7V934.7" fill="none" stroke="#12181c" stroke-width="2.9" stroke-linecap="square"/>
<g>
<path d="M206 736.2L227.5 818.4L248.9 851.4L270.4 862.4L291.9 896.5L313.3 870.8L334.8 829.2L356.2 797.5L377.6 802.1L399.1 792L420.5 884L442 857.9L463.4 850.9L484.9 861.7L506.4 878L527.8 855.5L549.2 843" fill="none" stroke="#c41f75" stroke-width="3.7" stroke-linejoin="miter" stroke-miterlimit="6"/>
<g fill="none" stroke="#bf2a78" stroke-width="1.8"><circle cx="206" cy="736.2" r="9.2"/><circle cx="227.5" cy="818.4" r="9.2"/><circle cx="248.9" cy="851.4" r="9.2"/><circle cx="270.4" cy="862.4" r="9.2"/><circle cx="291.9" cy="896.5" r="9.2"/><circle cx="313.3" cy="870.8" r="9.2"/><circle cx="334.8" cy="829.2" r="9.2"/><circle cx="356.2" cy="797.5" r="9.2"/><circle cx="377.6" cy="802.1" r="9.2"/><circle cx="399.1" cy="792" r="9.2"/><circle cx="420.5" cy="884" r="9.2"/><circle cx="442" cy="857.9" r="9.2"/><circle cx="463.4" cy="850.9" r="9.2"/><circle cx="484.9" cy="861.7" r="9.2"/><circle cx="506.4" cy="878" r="9.2"/><circle cx="527.8" cy="855.5" r="9.2"/><circle cx="549.2" cy="843" r="9.2"/></g>
<path d="M206 720.9L227.5 743.2L248.9 891.9L270.4 782.7L291.9 850L313.3 898.8L334.8 857.9L356.2 825.3L377.6 766.4L399.1 847.6L420.5 802.6L442 868.7L463.4 861.7L484.9 805L506.4 917.3L527.8 818.4L549.2 842.1" fill="none" stroke="#ee7a14" stroke-width="3.7" stroke-linejoin="miter" stroke-miterlimit="6"/>
<g fill="none" stroke="#e8842c" stroke-width="1.8"><circle cx="206" cy="720.9" r="9.2"/><circle cx="227.5" cy="743.2" r="9.2"/><circle cx="248.9" cy="891.9" r="9.2"/><circle cx="270.4" cy="782.7" r="9.2"/><circle cx="291.9" cy="850" r="9.2"/><circle cx="313.3" cy="898.8" r="9.2"/><circle cx="334.8" cy="857.9" r="9.2"/><circle cx="356.2" cy="825.3" r="9.2"/><circle cx="377.6" cy="766.4" r="9.2"/><circle cx="399.1" cy="847.6" r="9.2"/><circle cx="420.5" cy="802.6" r="9.2"/><circle cx="442" cy="868.7" r="9.2"/><circle cx="463.4" cy="861.7" r="9.2"/><circle cx="484.9" cy="805" r="9.2"/><circle cx="506.4" cy="917.3" r="9.2"/><circle cx="527.8" cy="818.4" r="9.2"/><circle cx="549.2" cy="842.1" r="9.2"/></g>
<path d="M206 833.7L227.5 721.4L248.9 899.8L270.4 903.4L291.9 809L313.3 871.8L334.8 897.9L356.2 911.3L377.6 875.6L399.1 930.5L420.5 904.8L442 915.9L463.4 811.4L484.9 908.2L506.4 896.5L527.8 896.5L549.2 897.9" fill="none" stroke="#26d026" stroke-width="3.7" stroke-linejoin="miter" stroke-miterlimit="6"/>
<g fill="none" stroke="#36c636" stroke-width="1.8"><circle cx="206" cy="833.7" r="9.2"/><circle cx="227.5" cy="721.4" r="9.2"/><circle cx="248.9" cy="899.8" r="9.2"/><circle cx="270.4" cy="903.4" r="9.2"/><circle cx="291.9" cy="809" r="9.2"/><circle cx="313.3" cy="871.8" r="9.2"/><circle cx="334.8" cy="897.9" r="9.2"/><circle cx="356.2" cy="911.3" r="9.2"/><circle cx="377.6" cy="875.6" r="9.2"/><circle cx="399.1" cy="930.5" r="9.2"/><circle cx="420.5" cy="904.8" r="9.2"/><circle cx="442" cy="915.9" r="9.2"/><circle cx="463.4" cy="811.4" r="9.2"/><circle cx="484.9" cy="908.2" r="9.2"/><circle cx="506.4" cy="896.5" r="9.2"/><circle cx="527.8" cy="896.5" r="9.2"/><circle cx="549.2" cy="897.9" r="9.2"/></g>
<path d="M206 810.5L227.5 792L248.9 904.4L270.4 903.4L291.9 904.4L313.3 903.4L334.8 916.3L356.2 903.4L377.6 917.3L399.1 924.2L420.5 910.3L442 911.8L463.4 895L484.9 910.3L506.4 902.4L527.8 901L549.2 903.4" fill="none" stroke="#4869e4" stroke-width="3.7" stroke-linejoin="miter" stroke-miterlimit="6"/>
<g fill="none" stroke="#5270dc" stroke-width="1.8"><circle cx="206" cy="810.5" r="9.2"/><circle cx="227.5" cy="792" r="9.2"/><circle cx="248.9" cy="904.4" r="9.2"/><circle cx="270.4" cy="903.4" r="9.2"/><circle cx="291.9" cy="904.4" r="9.2"/><circle cx="313.3" cy="903.4" r="9.2"/><circle cx="334.8" cy="916.3" r="9.2"/><circle cx="356.2" cy="903.4" r="9.2"/><circle cx="377.6" cy="917.3" r="9.2"/><circle cx="399.1" cy="924.2" r="9.2"/><circle cx="420.5" cy="910.3" r="9.2"/><circle cx="442" cy="911.8" r="9.2"/><circle cx="463.4" cy="895" r="9.2"/><circle cx="484.9" cy="910.3" r="9.2"/><circle cx="506.4" cy="902.4" r="9.2"/><circle cx="527.8" cy="901" r="9.2"/><circle cx="549.2" cy="903.4" r="9.2"/></g>
</g>
<text x="345.5" y="665.2" text-anchor="middle">monkey 1</text>
<text transform="translate(176.8 691.1) scale(1 1.075)" font-size="32.9" text-anchor="end">100</text>
<text transform="translate(176.8 811.1) scale(1 1.075)" font-size="32.9" text-anchor="end">50</text>
<text transform="translate(176.8 930.7) scale(1 1.075)" font-size="32.9" text-anchor="end">0</text>
<text transform="translate(185.3 966.1) scale(1 1.075)" font-size="32.9" text-anchor="middle">1</text>
<text transform="translate(291.2 966.1) scale(1 1.075)" font-size="32.9" text-anchor="middle">5</text>
<text transform="translate(398.3 966.1) scale(1 1.075)" font-size="32.9" text-anchor="middle">10</text>
<text transform="translate(505.7 966.1) scale(1 1.075)" font-size="32.9" text-anchor="middle">15</text>
<path d="M622.7 693.2V930.3H1003.8M618.7 693.2H622.7M618.7 811.8H622.7M618.7 930.3H622.7M622.7 930.3V934.3M734.6 930.3V934.3M846.4 930.3V934.3M958.2 930.3V934.3" fill="none" stroke="#12181c" stroke-width="2.9" stroke-linecap="square"/>
<g>
<path d="M645.1 789L667.4 881L689.8 907.3L712.2 857.3L734.6 859.6L756.9 790.9L779.3 835.9L801.7 829.1L824 808.4L846.4 879.8L868.8 881L891.1 833.3L913.5 821.7L935.9 774.1L958.2 839" fill="none" stroke="#c41f75" stroke-width="3.7" stroke-linejoin="miter" stroke-miterlimit="6"/>
<g fill="none" stroke="#bf2a78" stroke-width="1.8"><circle cx="645.1" cy="789" r="9.2"/><circle cx="667.4" cy="881" r="9.2"/><circle cx="689.8" cy="907.3" r="9.2"/><circle cx="712.2" cy="857.3" r="9.2"/><circle cx="734.6" cy="859.6" r="9.2"/><circle cx="756.9" cy="790.9" r="9.2"/><circle cx="779.3" cy="835.9" r="9.2"/><circle cx="801.7" cy="829.1" r="9.2"/><circle cx="824" cy="808.4" r="9.2"/><circle cx="846.4" cy="879.8" r="9.2"/><circle cx="868.8" cy="881" r="9.2"/><circle cx="891.1" cy="833.3" r="9.2"/><circle cx="913.5" cy="821.7" r="9.2"/><circle cx="935.9" cy="774.1" r="9.2"/><circle cx="958.2" cy="839" r="9.2"/></g>
<path d="M645.1 802L667.4 745.8L689.8 908.5L712.2 899.7L734.6 783.3L756.9 769.5L779.3 724L801.7 712.9L824 760.3L846.4 709.8L868.8 709.8L891.1 712.9L913.5 721.7L935.9 720.2L958.2 719.8" fill="none" stroke="#ee7a14" stroke-width="3.7" stroke-linejoin="miter" stroke-miterlimit="6"/>
<g fill="none" stroke="#e8842c" stroke-width="1.8"><circle cx="645.1" cy="802" r="9.2"/><circle cx="667.4" cy="745.8" r="9.2"/><circle cx="689.8" cy="908.5" r="9.2"/><circle cx="712.2" cy="899.7" r="9.2"/><circle cx="734.6" cy="783.3" r="9.2"/><circle cx="756.9" cy="769.5" r="9.2"/><circle cx="779.3" cy="724" r="9.2"/><circle cx="801.7" cy="712.9" r="9.2"/><circle cx="824" cy="760.3" r="9.2"/><circle cx="846.4" cy="709.8" r="9.2"/><circle cx="868.8" cy="709.8" r="9.2"/><circle cx="891.1" cy="712.9" r="9.2"/><circle cx="913.5" cy="721.7" r="9.2"/><circle cx="935.9" cy="720.2" r="9.2"/><circle cx="958.2" cy="719.8" r="9.2"/></g>
<path d="M645.1 826.7L667.4 864.1L689.8 826.7L712.2 881L734.6 863.4L756.9 833.3L779.3 860.8L801.7 861.8L824 861.8L846.4 863.4L868.8 882.2L891.1 857.3L913.5 851.6L935.9 833.3L958.2 838.3L980.6 887.6" fill="none" stroke="#26d026" stroke-width="3.7" stroke-linejoin="miter" stroke-miterlimit="6"/>
<g fill="none" stroke="#36c636" stroke-width="1.8"><circle cx="645.1" cy="826.7" r="9.2"/><circle cx="667.4" cy="864.1" r="9.2"/><circle cx="689.8" cy="826.7" r="9.2"/><circle cx="712.2" cy="881" r="9.2"/><circle cx="734.6" cy="863.4" r="9.2"/><circle cx="756.9" cy="833.3" r="9.2"/><circle cx="779.3" cy="860.8" r="9.2"/><circle cx="801.7" cy="861.8" r="9.2"/><circle cx="824" cy="861.8" r="9.2"/><circle cx="846.4" cy="863.4" r="9.2"/><circle cx="868.8" cy="882.2" r="9.2"/><circle cx="891.1" cy="857.3" r="9.2"/><circle cx="913.5" cy="851.6" r="9.2"/><circle cx="935.9" cy="833.3" r="9.2"/><circle cx="958.2" cy="838.3" r="9.2"/><circle cx="980.6" cy="887.6" r="9.2"/></g>
<path d="M645.1 867.2L667.4 923.4L689.8 922.2L712.2 878.4L734.6 926.7L756.9 926.7L779.3 886L801.7 926.7L824 924.4L846.4 855.1L868.8 916.1L891.1 918.4L913.5 914.7L935.9 888.3L958.2 904.7L980.6 923.4" fill="none" stroke="#4869e4" stroke-width="3.7" stroke-linejoin="miter" stroke-miterlimit="6"/>
<g fill="none" stroke="#5270dc" stroke-width="1.8"><circle cx="645.1" cy="867.2" r="9.2"/><circle cx="667.4" cy="923.4" r="9.2"/><circle cx="689.8" cy="922.2" r="9.2"/><circle cx="712.2" cy="878.4" r="9.2"/><circle cx="734.6" cy="926.7" r="9.2"/><circle cx="756.9" cy="926.7" r="9.2"/><circle cx="779.3" cy="886" r="9.2"/><circle cx="801.7" cy="926.7" r="9.2"/><circle cx="824" cy="924.4" r="9.2"/><circle cx="846.4" cy="855.1" r="9.2"/><circle cx="868.8" cy="916.1" r="9.2"/><circle cx="891.1" cy="918.4" r="9.2"/><circle cx="913.5" cy="914.7" r="9.2"/><circle cx="935.9" cy="888.3" r="9.2"/><circle cx="958.2" cy="904.7" r="9.2"/><circle cx="980.6" cy="923.4" r="9.2"/></g>
</g>
<text x="793.5" y="665.2" text-anchor="middle">monkey 2</text>
<text transform="translate(615.9 693.5) scale(1 1.075)" font-size="32.9" text-anchor="end">100</text>
<text transform="translate(615.9 811.7) scale(1 1.075)" font-size="32.9" text-anchor="end">50</text>
<text transform="translate(615.9 930.5) scale(1 1.075)" font-size="32.9" text-anchor="end">0</text>
<text transform="translate(624.1 966.1) scale(1 1.075)" font-size="32.9" text-anchor="middle">1</text>
<text transform="translate(734.4 966.1) scale(1 1.075)" font-size="32.9" text-anchor="middle">5</text>
<text transform="translate(844.8 966.1) scale(1 1.075)" font-size="32.9" text-anchor="middle">10</text>
<text transform="translate(956.8 966.1) scale(1 1.075)" font-size="32.9" text-anchor="middle">15</text>
<path d="M1119.4 693.2V929.3H1478.7M1115.4 693.2H1119.4M1115.4 811.2H1119.4M1115.4 929.3H1119.4M1119.4 929.3V933.3M1224.7 929.3V933.3M1329.9 929.3V933.3M1435.2 929.3V933.3" fill="none" stroke="#12181c" stroke-width="2.9" stroke-linecap="square"/>
<g>
<path d="M1140.5 770.6L1161.5 827.1L1182.6 834.6L1203.6 808.4L1224.7 827.1L1245.7 834.6L1266.8 818.3L1287.8 807L1308.9 798.3L1329.9 810.8L1351 798.3L1372 817.2L1393.1 817.2L1414.1 797.1L1435.2 837.2L1456.2 794.5L1477.2 803.2" fill="none" stroke="#c41f75" stroke-width="3.7" stroke-linejoin="miter" stroke-miterlimit="6"/>
<g fill="none" stroke="#bf2a78" stroke-width="1.8"><circle cx="1140.5" cy="770.6" r="9.2"/><circle cx="1161.5" cy="827.1" r="9.2"/><circle cx="1182.6" cy="834.6" r="9.2"/><circle cx="1203.6" cy="808.4" r="9.2"/><circle cx="1224.7" cy="827.1" r="9.2"/><circle cx="1245.7" cy="834.6" r="9.2"/><circle cx="1266.8" cy="818.3" r="9.2"/><circle cx="1287.8" cy="807" r="9.2"/><circle cx="1308.9" cy="798.3" r="9.2"/><circle cx="1329.9" cy="810.8" r="9.2"/><circle cx="1351" cy="798.3" r="9.2"/><circle cx="1372" cy="817.2" r="9.2"/><circle cx="1393.1" cy="817.2" r="9.2"/><circle cx="1414.1" cy="797.1" r="9.2"/><circle cx="1435.2" cy="837.2" r="9.2"/><circle cx="1456.2" cy="794.5" r="9.2"/><circle cx="1477.2" cy="803.2" r="9.2"/></g>
<path d="M1140.5 760.3L1161.5 789.5L1182.6 784.6L1203.6 777L1224.7 784.6L1245.7 800.9L1266.8 787.2L1287.8 790.7L1308.9 775.8L1329.9 800.9L1351 798.3L1372 804.6L1393.1 788.3L1414.1 799.7L1435.2 874.8L1456.2 797.1L1477.2 810.8" fill="none" stroke="#ee7a14" stroke-width="3.7" stroke-linejoin="miter" stroke-miterlimit="6"/>
<g fill="none" stroke="#e8842c" stroke-width="1.8"><circle cx="1140.5" cy="760.3" r="9.2"/><circle cx="1161.5" cy="789.5" r="9.2"/><circle cx="1182.6" cy="784.6" r="9.2"/><circle cx="1203.6" cy="777" r="9.2"/><circle cx="1224.7" cy="784.6" r="9.2"/><circle cx="1245.7" cy="800.9" r="9.2"/><circle cx="1266.8" cy="787.2" r="9.2"/><circle cx="1287.8" cy="790.7" r="9.2"/><circle cx="1308.9" cy="775.8" r="9.2"/><circle cx="1329.9" cy="800.9" r="9.2"/><circle cx="1351" cy="798.3" r="9.2"/><circle cx="1372" cy="804.6" r="9.2"/><circle cx="1393.1" cy="788.3" r="9.2"/><circle cx="1414.1" cy="799.7" r="9.2"/><circle cx="1435.2" cy="874.8" r="9.2"/><circle cx="1456.2" cy="797.1" r="9.2"/><circle cx="1477.2" cy="810.8" r="9.2"/></g>
<path d="M1140.5 789.5L1161.5 799.7L1182.6 754.1L1203.6 751.5L1224.7 736.6L1245.7 762.4L1266.8 789.5L1287.8 794.7L1308.9 761.9L1329.9 789.5L1351 772.5L1372 776.5L1393.1 765.7L1414.1 768.8L1435.2 787.6L1456.2 797.1L1477.2 778.2" fill="none" stroke="#26d026" stroke-width="3.7" stroke-linejoin="miter" stroke-miterlimit="6"/>
<g fill="none" stroke="#36c636" stroke-width="1.8"><circle cx="1140.5" cy="789.5" r="9.2"/><circle cx="1161.5" cy="799.7" r="9.2"/><circle cx="1182.6" cy="754.1" r="9.2"/><circle cx="1203.6" cy="751.5" r="9.2"/><circle cx="1224.7" cy="736.6" r="9.2"/><circle cx="1245.7" cy="762.4" r="9.2"/><circle cx="1266.8" cy="789.5" r="9.2"/><circle cx="1287.8" cy="794.7" r="9.2"/><circle cx="1308.9" cy="761.9" r="9.2"/><circle cx="1329.9" cy="789.5" r="9.2"/><circle cx="1351" cy="772.5" r="9.2"/><circle cx="1372" cy="776.5" r="9.2"/><circle cx="1393.1" cy="765.7" r="9.2"/><circle cx="1414.1" cy="768.8" r="9.2"/><circle cx="1435.2" cy="787.6" r="9.2"/><circle cx="1456.2" cy="797.1" r="9.2"/><circle cx="1477.2" cy="778.2" r="9.2"/></g>
<path d="M1140.5 842.2L1161.5 823.3L1182.6 770.9L1203.6 775.1L1224.7 783.4L1245.7 802L1266.8 820.9L1287.8 785.8L1308.9 800.9L1329.9 827.1L1351 794.5L1372 813.4L1393.1 785.8L1414.1 792.1L1435.2 805.8L1456.2 790.7L1477.2 789.5" fill="none" stroke="#4869e4" stroke-width="3.7" stroke-linejoin="miter" stroke-miterlimit="6"/>
<g fill="none" stroke="#5270dc" stroke-width="1.8"><circle cx="1140.5" cy="842.2" r="9.2"/><circle cx="1161.5" cy="823.3" r="9.2"/><circle cx="1182.6" cy="770.9" r="9.2"/><circle cx="1203.6" cy="775.1" r="9.2"/><circle cx="1224.7" cy="783.4" r="9.2"/><circle cx="1245.7" cy="802" r="9.2"/><circle cx="1266.8" cy="820.9" r="9.2"/><circle cx="1287.8" cy="785.8" r="9.2"/><circle cx="1308.9" cy="800.9" r="9.2"/><circle cx="1329.9" cy="827.1" r="9.2"/><circle cx="1351" cy="794.5" r="9.2"/><circle cx="1372" cy="813.4" r="9.2"/><circle cx="1393.1" cy="785.8" r="9.2"/><circle cx="1414.1" cy="792.1" r="9.2"/><circle cx="1435.2" cy="805.8" r="9.2"/><circle cx="1456.2" cy="790.7" r="9.2"/><circle cx="1477.2" cy="789.5" r="9.2"/></g>
</g>
<text x="1278.3" y="665.2" text-anchor="middle">monkey 1</text>
<text transform="translate(1113 693) scale(1 1.075)" font-size="32.9" text-anchor="end">100</text>
<text transform="translate(1113 811.3) scale(1 1.075)" font-size="32.9" text-anchor="end">50</text>
<text transform="translate(1113 929) scale(1 1.075)" font-size="32.9" text-anchor="end">0</text>
<text transform="translate(1120.5 966.1) scale(1 1.075)" font-size="32.9" text-anchor="middle">1</text>
<text transform="translate(1224 966.1) scale(1 1.075)" font-size="32.9" text-anchor="middle">5</text>
<text transform="translate(1328.5 966.1) scale(1 1.075)" font-size="32.9" text-anchor="middle">10</text>
<text transform="translate(1434.1 966.1) scale(1 1.075)" font-size="32.9" text-anchor="middle">15</text>
<path d="M1559.6 686V928.5H1945.2M1555.6 686H1559.6M1555.6 807.2H1559.6M1555.6 928.5H1559.6M1559.6 928.5V932.5M1672.7 928.5V932.5M1785.8 928.5V932.5M1898.9 928.5V932.5" fill="none" stroke="#12181c" stroke-width="2.9" stroke-linecap="square"/>
<g>
<path d="M1582.2 843.9L1604.8 872.7L1627.5 906.4L1650.1 816.7L1672.7 756.6L1695.3 765.3L1717.9 831L1740.6 800L1763.2 731.6L1785.8 816.7L1808.4 813.3L1831 749L1853.7 759L1876.3 736.7L1898.9 805.1" fill="none" stroke="#c41f75" stroke-width="3.7" stroke-linejoin="miter" stroke-miterlimit="6"/>
<g fill="none" stroke="#bf2a78" stroke-width="1.8"><circle cx="1582.2" cy="843.9" r="9.2"/><circle cx="1604.8" cy="872.7" r="9.2"/><circle cx="1627.5" cy="906.4" r="9.2"/><circle cx="1650.1" cy="816.7" r="9.2"/><circle cx="1672.7" cy="756.6" r="9.2"/><circle cx="1695.3" cy="765.3" r="9.2"/><circle cx="1717.9" cy="831" r="9.2"/><circle cx="1740.6" cy="800" r="9.2"/><circle cx="1763.2" cy="731.6" r="9.2"/><circle cx="1785.8" cy="816.7" r="9.2"/><circle cx="1808.4" cy="813.3" r="9.2"/><circle cx="1831" cy="749" r="9.2"/><circle cx="1853.7" cy="759" r="9.2"/><circle cx="1876.3" cy="736.7" r="9.2"/><circle cx="1898.9" cy="805.1" r="9.2"/></g>
<path d="M1582.2 808.7L1604.8 831.5L1627.5 923.4L1650.1 885.1L1672.7 849L1695.3 818.9L1717.9 824.7L1740.6 882.2L1763.2 799.5L1785.8 790L1808.4 812.6L1831 770.9L1853.7 739.8L1876.3 765.5L1898.9 766.5L1921.5 877.1" fill="none" stroke="#ee7a14" stroke-width="3.7" stroke-linejoin="miter" stroke-miterlimit="6"/>
<g fill="none" stroke="#e8842c" stroke-width="1.8"><circle cx="1582.2" cy="808.7" r="9.2"/><circle cx="1604.8" cy="831.5" r="9.2"/><circle cx="1627.5" cy="923.4" r="9.2"/><circle cx="1650.1" cy="885.1" r="9.2"/><circle cx="1672.7" cy="849" r="9.2"/><circle cx="1695.3" cy="818.9" r="9.2"/><circle cx="1717.9" cy="824.7" r="9.2"/><circle cx="1740.6" cy="882.2" r="9.2"/><circle cx="1763.2" cy="799.5" r="9.2"/><circle cx="1785.8" cy="790" r="9.2"/><circle cx="1808.4" cy="812.6" r="9.2"/><circle cx="1831" cy="770.9" r="9.2"/><circle cx="1853.7" cy="739.8" r="9.2"/><circle cx="1876.3" cy="765.5" r="9.2"/><circle cx="1898.9" cy="766.5" r="9.2"/><circle cx="1921.5" cy="877.1" r="9.2"/></g>
<path d="M1582.2 719.7L1604.8 709.8L1627.5 719.7L1650.1 712.7L1672.7 722.4L1695.3 700.3L1717.9 709.8L1740.6 727.2L1763.2 744L1785.8 722.4L1808.4 722.4L1831 722.4L1853.7 707.8L1876.3 724.8L1898.9 709.8L1921.5 707.3" fill="none" stroke="#26d026" stroke-width="3.7" stroke-linejoin="miter" stroke-miterlimit="6"/>
<g fill="none" stroke="#36c636" stroke-width="1.8"><circle cx="1582.2" cy="719.7" r="9.2"/><circle cx="1604.8" cy="709.8" r="9.2"/><circle cx="1627.5" cy="719.7" r="9.2"/><circle cx="1650.1" cy="712.7" r="9.2"/><circle cx="1672.7" cy="722.4" r="9.2"/><circle cx="1695.3" cy="700.3" r="9.2"/><circle cx="1717.9" cy="709.8" r="9.2"/><circle cx="1740.6" cy="727.2" r="9.2"/><circle cx="1763.2" cy="744" r="9.2"/><circle cx="1785.8" cy="722.4" r="9.2"/><circle cx="1808.4" cy="722.4" r="9.2"/><circle cx="1831" cy="722.4" r="9.2"/><circle cx="1853.7" cy="707.8" r="9.2"/><circle cx="1876.3" cy="724.8" r="9.2"/><circle cx="1898.9" cy="709.8" r="9.2"/><circle cx="1921.5" cy="707.3" r="9.2"/></g>
<path d="M1582.2 804.6L1604.8 862.3L1627.5 859.6L1650.1 755.8L1672.7 825.9L1695.3 773.3L1717.9 765.8L1740.6 865.2L1763.2 774.5L1785.8 717.3L1808.4 760.7L1831 802.2L1853.7 775L1876.3 720.2L1898.9 729.6L1921.5 772.3" fill="none" stroke="#4869e4" stroke-width="3.7" stroke-linejoin="miter" stroke-miterlimit="6"/>
<g fill="none" stroke="#5270dc" stroke-width="1.8"><circle cx="1582.2" cy="804.6" r="9.2"/><circle cx="1604.8" cy="862.3" r="9.2"/><circle cx="1627.5" cy="859.6" r="9.2"/><circle cx="1650.1" cy="755.8" r="9.2"/><circle cx="1672.7" cy="825.9" r="9.2"/><circle cx="1695.3" cy="773.3" r="9.2"/><circle cx="1717.9" cy="765.8" r="9.2"/><circle cx="1740.6" cy="865.2" r="9.2"/><circle cx="1763.2" cy="774.5" r="9.2"/><circle cx="1785.8" cy="717.3" r="9.2"/><circle cx="1808.4" cy="760.7" r="9.2"/><circle cx="1831" cy="802.2" r="9.2"/><circle cx="1853.7" cy="775" r="9.2"/><circle cx="1876.3" cy="720.2" r="9.2"/><circle cx="1898.9" cy="729.6" r="9.2"/><circle cx="1921.5" cy="772.3" r="9.2"/></g>
</g>
<text x="1743" y="665.2" text-anchor="middle">monkey 2</text>
<text transform="translate(1552.3 685.7) scale(1 1.075)" font-size="32.9" text-anchor="end">100</text>
<text transform="translate(1552.3 806.9) scale(1 1.075)" font-size="32.9" text-anchor="end">50</text>
<text transform="translate(1552.3 927.6) scale(1 1.075)" font-size="32.9" text-anchor="end">0</text>
<text transform="translate(1560.8 966.1) scale(1 1.075)" font-size="32.9" text-anchor="middle">1</text>
<text transform="translate(1672.3 966.1) scale(1 1.075)" font-size="32.9" text-anchor="middle">5</text>
<text transform="translate(1784.5 966.1) scale(1 1.075)" font-size="32.9" text-anchor="middle">10</text>
<text transform="translate(1897.9 966.1) scale(1 1.075)" font-size="32.9" text-anchor="middle">15</text>
<text x="1954.6" y="753.6" font-size="30" style="fill:#c0267c;stroke:#c0267c">view reward</text>
<text x="1954.6" y="789.9" font-size="30" style="fill:#ee8226;stroke:#ee8226">view partner</text>
<text x="1954.6" y="826.4" font-size="30" style="fill:#2fd02f;stroke:#2fd02f">self push</text>
<text x="1954.6" y="862.7" font-size="30" style="fill:#4d6ee0;stroke:#4d6ee0">partner push</text>
</g>
</svg>
</body>
</html>
